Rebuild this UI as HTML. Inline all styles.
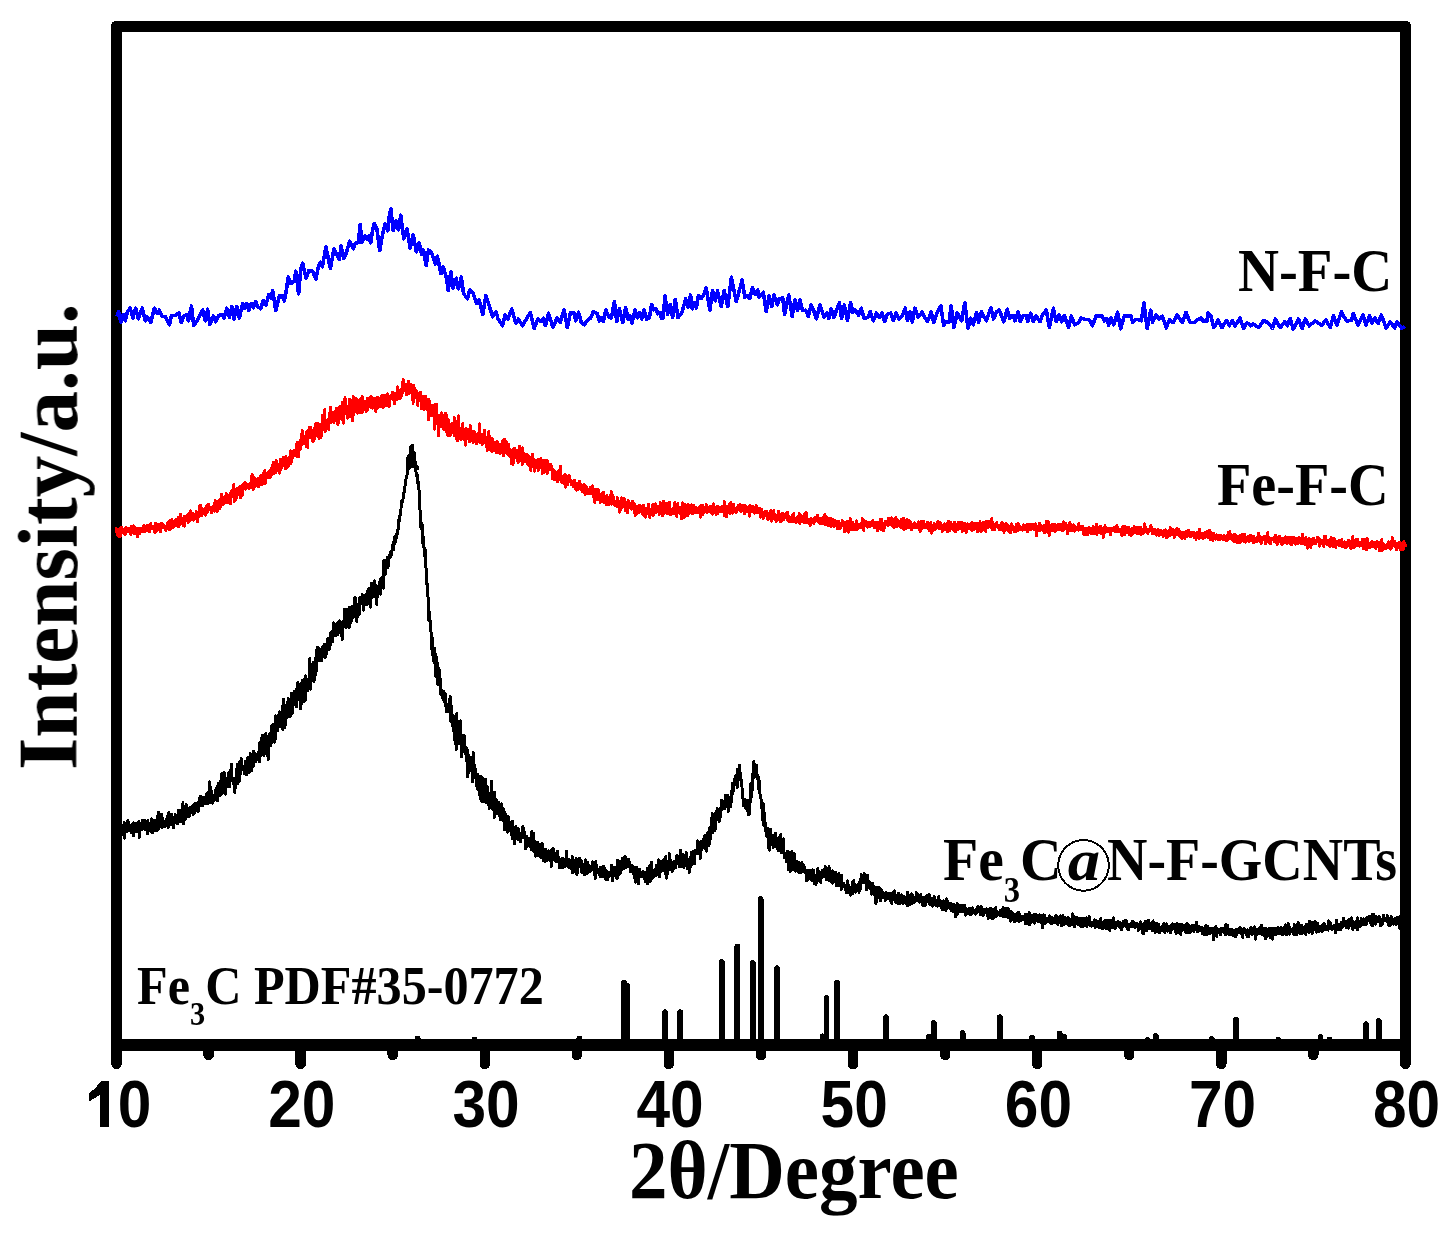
<!DOCTYPE html>
<html><head><meta charset="utf-8"><title>XRD</title>
<style>
html,body{margin:0;padding:0;background:#fff;width:1453px;height:1239px;overflow:hidden}
svg{display:block}
.tl{font-family:"Liberation Sans",sans-serif;font-weight:bold;font-size:65px}
.ax{font-family:"Liberation Serif",serif;font-weight:bold;font-size:82px}
.lb{font-family:"Liberation Serif",serif;font-weight:bold;font-size:62px}
.lb2{font-family:"Liberation Serif",serif;font-weight:bold;font-size:54px}
.sub{font-size:34px}
.sub2{font-size:28px}
</style></head><body>
<svg width="1453" height="1239" viewBox="0 0 1453 1239" shape-rendering="crispEdges">
<rect width="100%" height="100%" fill="#fff"/>
<path d="M624.0 1040V982.5M627.0 1040V986.0M665.0 1040V1012.2M680.1 1040V1012.2M721.8 1040V962.0M737.3 1040V946.5M752.8 1040V963.0M760.6 1040V899.0M777.0 1040V968.2M822.6 1040V1036.3M826.5 1040V998.1M836.8 1040V982.6M886.0 1040V1017.2M929.0 1040V1036.9M933.7 1040V1023.1M962.6 1040V1033.2M999.8 1040V1017.3M1032.2 1040V1037.5M1059.6 1040V1033.4M1063.8 1040V1036.5M1147.4 1040V1040.4M1155.8 1040V1036.0M1211.7 1040V1039.0M1235.9 1040V1019.7M1278.3 1040V1039.9M1320.5 1040V1036.9M1329.5 1040V1039.7M1366.0 1040V1024.2M1378.7 1040V1021.1M417.7 1040V1038.5M474.4 1040V1039.5M579.4 1040V1038.5" stroke="#000" stroke-width="5.8" stroke-linecap="round" fill="none"/>
<rect x="116.5" y="26.5" width="1289.0" height="1018.5" fill="none" stroke="#000" stroke-width="11.5" stroke-linejoin="round"/>
<path d="M116.5 1045V1064M300.6 1045V1064M484.8 1045V1064M668.9 1045V1064M853.0 1045V1064M1037.2 1045V1064M1221.3 1045V1064M1405.4 1045V1064M208.6 1045V1055M392.7 1045V1055M576.8 1045V1055M761.0 1045V1055M945.1 1045V1055M1129.2 1045V1055M1313.3 1045V1055" stroke="#000" stroke-width="10.5" stroke-linecap="round" fill="none"/>
<path d="M116.0 825.8L116.4 830.0L116.7 822.2L117.1 831.7L117.5 833.7L117.9 827.1L118.2 830.7L118.6 829.9L119.0 827.2L119.3 825.3L119.7 820.4L120.1 834.6L120.4 828.5L120.8 839.1L121.2 832.1L121.6 829.8L121.9 825.9L122.3 834.3L122.7 826.5L123.0 835.0L123.4 826.9L123.8 829.3L124.1 822.2L124.5 838.1L124.9 828.0L125.3 826.8L125.6 831.7L126.0 824.7L126.4 831.5L126.7 823.4L127.1 830.5L127.5 823.9L127.8 820.6L128.2 825.7L128.6 822.1L129.0 830.4L129.3 828.2L129.7 830.2L130.1 828.4L130.4 826.6L130.8 828.1L131.2 832.4L131.5 827.2L131.9 824.8L132.3 823.9L132.7 827.0L133.0 824.7L133.4 835.7L133.8 822.9L134.1 823.3L134.5 826.5L134.9 830.4L135.2 826.6L135.6 823.7L136.0 824.3L136.4 826.1L136.7 831.6L137.1 823.4L137.5 827.1L137.8 824.9L138.2 828.8L138.6 829.0L138.9 821.2L139.3 837.3L139.7 828.0L140.1 825.1L140.4 823.4L140.8 826.0L141.2 827.2L141.5 829.5L141.9 826.9L142.3 828.9L142.6 820.0L143.0 823.5L143.4 822.3L143.8 827.2L144.1 828.3L144.5 820.1L144.9 825.4L145.2 829.1L145.6 829.8L146.0 821.1L146.3 828.0L146.7 827.0L147.1 823.6L147.5 833.5L147.8 820.4L148.2 823.8L148.6 826.8L148.9 825.7L149.3 823.9L149.7 830.3L150.0 830.4L150.4 828.0L150.8 828.3L151.2 823.7L151.5 818.9L151.9 832.9L152.3 819.5L152.6 832.8L153.0 822.8L153.4 824.2L153.7 822.3L154.1 827.0L154.5 820.7L154.9 830.6L155.2 824.9L155.6 823.3L156.0 820.1L156.3 823.6L156.7 822.4L157.1 830.4L157.4 826.2L157.8 815.5L158.2 828.6L158.6 812.0L158.9 828.6L159.3 813.9L159.7 821.9L160.0 825.3L160.4 821.8L160.8 817.1L161.1 827.0L161.5 814.1L161.9 815.4L162.3 827.5L162.6 817.8L163.0 822.5L163.4 824.9L163.7 820.9L164.1 822.5L164.5 821.8L164.8 822.2L165.2 826.3L165.6 825.2L166.0 822.5L166.3 825.0L166.7 818.7L167.1 817.7L167.4 816.6L167.8 824.2L168.2 827.8L168.5 821.1L168.9 812.2L169.3 818.4L169.7 822.5L170.0 821.7L170.4 820.8L170.8 824.6L171.1 824.2L171.5 814.4L171.9 821.9L172.2 816.8L172.6 820.9L173.0 825.1L173.4 827.5L173.7 822.5L174.1 817.2L174.5 817.8L174.8 821.4L175.2 814.7L175.6 818.6L175.9 821.3L176.3 822.5L176.7 817.1L177.1 819.8L177.4 824.0L177.8 819.2L178.2 810.3L178.5 818.5L178.9 818.5L179.3 815.4L179.6 817.2L180.0 810.4L180.4 822.0L180.8 818.3L181.1 813.9L181.5 817.1L181.9 816.5L182.2 811.9L182.6 803.9L183.0 802.9L183.3 823.9L183.7 810.0L184.1 813.4L184.5 817.0L184.8 812.7L185.2 819.3L185.6 809.8L185.9 816.2L186.3 804.4L186.7 816.4L187.0 816.1L187.4 814.5L187.8 814.0L188.2 813.7L188.5 816.1L188.9 816.3L189.3 807.8L189.6 816.3L190.0 807.3L190.4 812.0L190.7 809.9L191.1 812.9L191.5 809.2L191.9 812.2L192.2 808.1L192.6 805.7L193.0 814.4L193.3 812.0L193.7 811.5L194.1 813.2L194.4 804.1L194.8 812.5L195.2 803.7L195.6 809.7L195.9 807.0L196.3 808.8L196.7 810.4L197.0 807.2L197.4 802.8L197.8 810.6L198.1 811.5L198.5 809.1L198.9 810.3L199.3 797.8L199.6 805.6L200.0 804.5L200.4 796.1L200.7 804.9L201.1 804.2L201.5 797.1L201.8 799.8L202.2 803.7L202.6 805.8L203.0 806.0L203.3 797.3L203.7 797.1L204.1 799.5L204.4 801.3L204.8 798.4L205.2 799.9L205.5 803.9L205.9 803.5L206.3 800.5L206.7 793.9L207.0 796.7L207.4 801.5L207.8 802.7L208.1 803.3L208.5 792.4L208.9 795.0L209.2 790.9L209.6 781.7L210.0 790.7L210.4 786.8L210.7 802.8L211.1 797.7L211.5 791.6L211.8 794.9L212.2 796.4L212.6 803.2L212.9 797.8L213.3 801.5L213.7 795.6L214.1 799.8L214.4 800.3L214.8 797.3L215.2 792.1L215.5 797.7L215.9 789.2L216.3 799.1L216.6 789.3L217.0 786.8L217.4 801.0L217.8 787.7L218.1 790.8L218.5 783.5L218.9 785.3L219.2 787.1L219.6 783.1L220.0 795.7L220.3 784.1L220.7 780.7L221.1 794.5L221.5 791.8L221.8 773.5L222.2 783.7L222.6 792.9L222.9 782.0L223.3 784.7L223.7 784.6L224.0 772.0L224.4 780.1L224.8 790.1L225.2 794.1L225.5 784.3L225.9 783.9L226.3 787.7L226.6 785.0L227.0 786.9L227.4 778.0L227.7 783.3L228.1 786.0L228.5 786.2L228.9 772.5L229.2 787.0L229.6 782.2L230.0 782.2L230.3 769.8L230.7 780.7L231.1 770.3L231.4 764.1L231.8 780.0L232.2 779.1L232.6 779.1L232.9 779.5L233.3 778.0L233.7 784.5L234.0 782.4L234.4 787.1L234.8 792.4L235.1 781.1L235.5 780.9L235.9 787.4L236.3 769.7L236.6 772.7L237.0 776.0L237.4 764.3L237.7 779.7L238.1 783.2L238.5 765.1L238.8 767.5L239.2 777.9L239.6 780.4L240.0 761.1L240.3 774.5L240.7 769.5L241.1 758.8L241.4 767.4L241.8 766.1L242.2 770.0L242.5 769.3L242.9 767.0L243.3 767.6L243.7 767.1L244.0 771.1L244.4 773.6L244.8 773.3L245.1 761.4L245.5 761.7L245.9 762.2L246.2 775.1L246.6 768.9L247.0 760.8L247.4 758.0L247.7 758.7L248.1 765.0L248.5 757.5L248.8 764.2L249.2 772.5L249.6 762.0L249.9 768.8L250.3 753.4L250.7 765.0L251.1 764.3L251.4 756.2L251.8 770.5L252.2 761.3L252.5 756.7L252.9 758.8L253.3 766.3L253.6 751.1L254.0 760.4L254.4 752.9L254.8 760.0L255.1 754.7L255.5 757.1L255.9 761.8L256.2 756.5L256.6 759.0L257.0 759.2L257.3 756.5L257.7 754.6L258.1 752.6L258.5 755.6L258.8 758.5L259.2 761.9L259.6 760.8L259.9 742.7L260.3 750.5L260.7 751.4L261.0 755.6L261.4 754.3L261.8 738.0L262.2 748.6L262.5 735.6L262.9 743.2L263.3 740.0L263.6 741.8L264.0 755.6L264.4 741.7L264.7 741.7L265.1 745.4L265.5 751.2L265.9 733.2L266.2 754.2L266.6 738.6L267.0 736.8L267.3 743.6L267.7 746.7L268.1 759.4L268.4 747.4L268.8 737.3L269.2 739.3L269.6 734.0L269.9 743.9L270.3 744.4L270.7 736.4L271.0 745.2L271.4 726.5L271.8 733.7L272.1 730.2L272.5 731.7L272.9 724.3L273.3 740.4L273.6 727.4L274.0 732.1L274.4 740.0L274.7 742.1L275.1 738.7L275.5 715.9L275.8 727.8L276.2 726.9L276.6 724.1L277.0 722.8L277.3 723.6L277.7 730.4L278.1 722.9L278.4 716.5L278.8 714.3L279.2 724.8L279.5 712.0L279.9 727.1L280.3 718.6L280.7 717.9L281.0 722.0L281.4 717.5L281.8 723.8L282.1 710.1L282.5 706.0L282.9 730.0L283.2 717.7L283.6 699.1L284.0 726.4L284.4 705.5L284.7 727.6L285.1 725.4L285.5 718.7L285.8 712.4L286.2 706.1L286.6 717.5L286.9 708.1L287.3 717.3L287.7 707.8L288.1 698.8L288.4 704.0L288.8 708.4L289.2 704.3L289.5 707.9L289.9 700.4L290.3 716.5L290.6 701.9L291.0 708.3L291.4 693.3L291.8 709.3L292.1 713.5L292.5 706.8L292.9 700.7L293.2 695.6L293.6 705.2L294.0 704.5L294.3 691.5L294.7 699.7L295.1 702.6L295.5 693.4L295.8 702.0L296.2 695.7L296.6 706.5L296.9 688.0L297.3 699.4L297.7 696.2L298.0 682.5L298.4 688.3L298.8 688.3L299.2 699.7L299.5 690.7L299.9 692.6L300.3 693.2L300.6 709.0L301.0 689.9L301.4 704.0L301.7 689.7L302.1 680.2L302.5 684.9L302.9 681.8L303.2 687.3L303.6 679.8L304.0 683.1L304.3 701.4L304.7 690.0L305.1 690.2L305.4 699.5L305.8 675.9L306.2 689.9L306.6 682.3L306.9 684.4L307.3 679.3L307.7 683.7L308.0 690.2L308.4 689.1L308.8 681.8L309.1 684.7L309.5 670.5L309.9 658.1L310.3 683.4L310.6 689.1L311.0 677.9L311.4 670.0L311.7 673.6L312.1 680.5L312.5 663.9L312.8 671.3L313.2 674.0L313.6 662.4L314.0 682.1L314.3 672.8L314.7 677.6L315.1 658.7L315.4 666.4L315.8 674.3L316.2 666.3L316.5 670.8L316.9 649.6L317.3 660.4L317.7 647.0L318.0 656.1L318.4 660.5L318.8 657.1L319.1 648.8L319.5 658.3L319.9 659.9L320.2 654.2L320.6 659.5L321.0 661.0L321.4 661.0L321.7 649.9L322.1 654.9L322.5 646.7L322.8 649.7L323.2 656.7L323.6 648.4L323.9 645.5L324.3 644.0L324.7 650.7L325.1 657.3L325.4 652.2L325.8 644.2L326.2 650.3L326.5 650.8L326.9 653.6L327.3 639.1L327.6 647.1L328.0 639.8L328.4 638.4L328.8 649.6L329.1 644.5L329.5 640.9L329.9 648.8L330.2 640.5L330.6 633.1L331.0 644.3L331.3 631.8L331.7 631.7L332.1 634.1L332.5 635.3L332.8 641.7L333.2 633.0L333.6 623.0L333.9 630.6L334.3 635.9L334.7 632.5L335.0 632.0L335.4 624.4L335.8 629.3L336.2 635.1L336.5 634.7L336.9 624.9L337.3 625.1L337.6 623.0L338.0 634.9L338.4 623.5L338.7 626.1L339.1 622.0L339.5 621.0L339.9 625.6L340.2 631.8L340.6 621.8L341.0 632.7L341.3 624.3L341.7 628.9L342.1 639.8L342.4 638.0L342.8 624.8L343.2 623.0L343.6 621.1L343.9 626.3L344.3 609.1L344.7 616.3L345.0 619.6L345.4 615.2L345.8 613.3L346.1 627.9L346.5 609.6L346.9 616.0L347.3 614.7L347.6 615.1L348.0 611.0L348.4 622.4L348.7 616.4L349.1 628.1L349.5 607.6L349.8 616.9L350.2 607.5L350.6 616.9L351.0 622.7L351.3 607.4L351.7 620.8L352.1 608.8L352.4 606.3L352.8 615.5L353.2 617.8L353.5 613.5L353.9 614.2L354.3 611.6L354.7 608.1L355.0 597.1L355.4 608.2L355.8 605.5L356.1 613.2L356.5 603.8L356.9 621.6L357.2 612.1L357.6 604.9L358.0 611.4L358.4 605.0L358.7 614.4L359.1 602.9L359.5 614.3L359.8 597.7L360.2 604.7L360.6 603.1L360.9 597.3L361.3 600.5L361.7 602.2L362.1 594.0L362.4 595.7L362.8 603.9L363.2 595.4L363.5 610.2L363.9 609.8L364.3 596.2L364.6 601.2L365.0 602.0L365.4 602.8L365.8 594.4L366.1 602.3L366.5 593.8L366.9 596.3L367.2 604.6L367.6 595.7L368.0 589.8L368.3 592.0L368.7 597.4L369.1 590.1L369.5 588.5L369.8 595.4L370.2 588.0L370.6 607.2L370.9 589.1L371.3 597.5L371.7 583.3L372.0 590.2L372.4 597.3L372.8 595.1L373.2 595.4L373.5 587.3L373.9 591.9L374.3 589.0L374.6 580.9L375.0 597.0L375.4 585.0L375.7 587.5L376.1 594.2L376.5 592.5L376.9 604.6L377.2 587.1L377.6 596.5L378.0 586.2L378.3 586.6L378.7 592.9L379.1 589.8L379.4 581.9L379.8 584.1L380.2 585.3L380.6 594.3L380.9 578.2L381.3 583.8L381.7 585.5L382.0 581.8L382.4 577.0L382.8 584.1L383.1 572.3L383.5 588.2L383.9 559.9L384.3 562.6L384.6 573.5L385.0 574.9L385.4 572.4L385.7 565.1L386.1 566.2L386.5 565.8L386.8 559.6L387.2 561.3L387.6 557.2L388.0 567.5L388.3 562.5L388.7 557.1L389.1 556.6L389.4 555.3L389.8 555.1L390.2 557.2L390.5 553.2L390.9 551.5L391.3 554.9L391.7 551.2L392.0 551.0L392.4 550.2L392.8 547.7L393.1 542.1L393.5 544.6L393.9 549.4L394.2 538.9L394.6 537.5L395.0 537.7L395.4 536.3L395.7 541.9L396.1 533.9L396.5 538.1L396.8 535.5L397.2 533.9L397.6 532.2L397.9 529.8L398.3 528.7L398.7 529.2L399.1 516.6L399.4 521.4L399.8 520.4L400.2 511.6L400.5 510.7L400.9 511.1L401.3 501.9L401.6 505.8L402.0 500.4L402.4 502.2L402.8 500.7L403.1 498.5L403.5 493.5L403.9 493.7L404.2 490.2L404.6 489.9L405.0 486.3L405.3 483.1L405.7 484.2L406.1 477.9L406.5 476.8L406.8 477.1L407.2 473.5L407.6 472.1L407.9 467.1L408.3 466.6L408.7 463.1L409.0 459.9L409.4 460.8L409.8 457.0L410.2 456.0L410.5 452.5L410.9 451.6L411.3 449.8L411.6 447.0L412.0 446.9L412.4 445.5L412.7 449.6L413.1 451.6L413.5 452.9L413.9 457.4L414.2 458.2L414.6 460.5L415.0 461.6L415.3 462.3L415.7 468.2L416.1 472.6L416.4 476.1L416.8 476.0L417.2 474.5L417.6 479.3L417.9 483.3L418.3 482.3L418.7 487.6L419.0 490.1L419.4 493.8L419.8 499.6L420.1 513.7L420.5 520.9L420.9 527.8L421.3 525.0L421.6 529.2L422.0 523.8L422.4 535.3L422.7 543.3L423.1 536.3L423.5 545.2L423.8 543.2L424.2 551.4L424.6 555.7L425.0 548.3L425.3 555.4L425.7 561.4L426.1 569.7L426.4 583.3L426.8 580.7L427.2 585.5L427.5 590.4L427.9 591.3L428.3 611.6L428.7 615.0L429.0 620.5L429.4 620.3L429.8 612.4L430.1 626.7L430.5 621.4L430.9 622.2L431.2 648.8L431.6 641.2L432.0 636.7L432.4 649.2L432.7 654.8L433.1 651.9L433.5 649.9L433.8 661.2L434.2 661.5L434.6 662.6L434.9 648.0L435.3 663.8L435.7 676.3L436.1 655.9L436.4 661.8L436.8 660.4L437.2 663.6L437.5 667.5L437.9 684.4L438.3 669.6L438.6 685.0L439.0 668.6L439.4 681.9L439.8 679.0L440.1 678.3L440.5 685.4L440.9 695.0L441.2 689.9L441.6 693.6L442.0 690.8L442.3 695.1L442.7 695.8L443.1 700.1L443.5 694.1L443.8 691.5L444.2 693.5L444.6 694.2L444.9 703.0L445.3 693.6L445.7 706.1L446.0 703.2L446.4 711.8L446.8 704.6L447.2 712.0L447.5 707.9L447.9 706.9L448.3 704.0L448.6 710.7L449.0 708.7L449.4 704.3L449.7 706.2L450.1 696.4L450.5 720.7L450.9 721.6L451.2 710.7L451.6 706.0L452.0 721.7L452.3 726.2L452.7 719.0L453.1 715.6L453.4 731.2L453.8 729.6L454.2 731.9L454.6 739.5L454.9 726.6L455.3 729.3L455.7 743.9L456.0 736.5L456.4 749.4L456.8 713.5L457.1 722.3L457.5 738.6L457.9 738.7L458.3 728.0L458.6 730.4L459.0 731.7L459.4 743.4L459.7 729.5L460.1 739.5L460.5 735.9L460.8 720.8L461.2 745.0L461.6 757.0L462.0 743.3L462.3 751.0L462.7 746.8L463.1 745.9L463.4 736.4L463.8 747.8L464.2 735.7L464.5 746.4L464.9 752.6L465.3 753.7L465.7 747.7L466.0 753.1L466.4 747.9L466.8 761.3L467.1 749.0L467.5 777.0L467.9 764.6L468.2 759.3L468.6 773.1L469.0 755.3L469.4 771.0L469.7 759.1L470.1 764.6L470.5 761.4L470.8 760.8L471.2 762.8L471.6 768.9L471.9 766.3L472.3 781.7L472.7 770.5L473.1 752.7L473.4 766.4L473.8 770.1L474.2 774.8L474.5 777.5L474.9 765.4L475.3 776.2L475.6 769.8L476.0 776.8L476.4 775.0L476.8 785.9L477.1 785.0L477.5 789.2L477.9 774.6L478.2 777.0L478.6 781.3L479.0 778.0L479.3 778.3L479.7 786.4L480.1 798.2L480.5 786.6L480.8 795.3L481.2 776.4L481.6 799.5L481.9 801.3L482.3 788.8L482.7 785.0L483.0 792.8L483.4 778.7L483.8 792.0L484.2 779.3L484.5 801.4L484.9 791.4L485.3 787.4L485.6 779.3L486.0 802.5L486.4 794.4L486.7 790.8L487.1 802.4L487.5 786.7L487.9 802.7L488.2 804.6L488.6 795.1L489.0 804.9L489.3 808.4L489.7 793.6L490.1 794.4L490.4 804.4L490.8 804.4L491.2 795.3L491.6 781.1L491.9 791.4L492.3 809.1L492.7 798.8L493.0 796.5L493.4 805.1L493.8 792.4L494.1 817.4L494.5 792.2L494.9 803.4L495.3 807.5L495.6 809.4L496.0 799.3L496.4 804.4L496.7 813.3L497.1 808.3L497.5 812.1L497.8 809.4L498.2 810.1L498.6 804.2L499.0 802.8L499.3 808.7L499.7 804.1L500.1 819.9L500.4 816.1L500.8 819.7L501.2 803.9L501.5 805.5L501.9 817.6L502.3 815.2L502.7 816.1L503.0 821.0L503.4 809.9L503.8 808.8L504.1 811.8L504.5 829.5L504.9 817.6L505.2 813.9L505.6 827.4L506.0 824.7L506.4 825.2L506.7 824.4L507.1 820.2L507.5 832.1L507.8 827.4L508.2 816.5L508.6 817.4L508.9 820.8L509.3 829.8L509.7 822.1L510.1 824.7L510.4 824.2L510.8 827.7L511.2 834.6L511.5 825.9L511.9 828.9L512.3 838.7L512.6 821.3L513.0 831.9L513.4 831.6L513.8 830.5L514.1 836.8L514.5 843.4L514.9 831.9L515.2 832.0L515.6 835.9L516.0 826.4L516.3 831.1L516.7 834.9L517.1 834.6L517.5 829.8L517.8 839.7L518.2 828.2L518.6 830.7L518.9 829.3L519.3 836.8L519.7 839.2L520.0 834.7L520.4 841.5L520.8 833.6L521.2 836.4L521.5 837.3L521.9 836.2L522.3 837.6L522.6 831.7L523.0 826.4L523.4 834.6L523.7 835.7L524.1 836.7L524.5 832.9L524.9 832.0L525.2 849.0L525.6 842.8L526.0 841.0L526.3 840.4L526.7 836.5L527.1 839.3L527.4 846.1L527.8 845.7L528.2 838.0L528.6 838.6L528.9 838.7L529.3 838.1L529.7 846.5L530.0 845.4L530.4 844.0L530.8 839.7L531.1 849.3L531.5 843.3L531.9 830.9L532.3 850.1L532.6 845.2L533.0 841.3L533.4 851.1L533.7 833.1L534.1 841.8L534.5 848.8L534.8 842.1L535.2 856.1L535.6 856.1L536.0 847.9L536.3 847.9L536.7 855.6L537.1 850.5L537.4 842.5L537.8 846.7L538.2 843.9L538.5 851.5L538.9 849.7L539.3 856.0L539.7 850.7L540.0 845.9L540.4 844.4L540.8 857.7L541.1 856.8L541.5 846.7L541.9 843.8L542.2 843.6L542.6 856.4L543.0 850.0L543.4 861.0L543.7 850.4L544.1 851.2L544.5 851.7L544.8 856.2L545.2 861.9L545.6 849.1L545.9 857.8L546.3 861.0L546.7 853.7L547.1 852.8L547.4 860.2L547.8 852.2L548.2 854.0L548.5 851.0L548.9 853.3L549.3 857.3L549.6 858.0L550.0 855.3L550.4 857.0L550.8 850.5L551.1 866.9L551.5 851.9L551.9 859.7L552.2 853.6L552.6 857.6L553.0 848.1L553.3 854.6L553.7 852.2L554.1 859.8L554.5 858.9L554.8 854.2L555.2 854.0L555.6 860.8L555.9 856.7L556.3 862.0L556.7 860.7L557.0 857.3L557.4 858.4L557.8 851.1L558.2 859.9L558.5 859.1L558.9 860.2L559.3 867.4L559.6 861.3L560.0 860.9L560.4 861.0L560.7 859.1L561.1 867.9L561.5 861.3L561.9 867.5L562.2 865.0L562.6 858.4L563.0 863.0L563.3 867.3L563.7 860.6L564.1 862.8L564.4 861.5L564.8 861.7L565.2 866.3L565.6 859.1L565.9 861.5L566.3 863.8L566.7 851.1L567.0 861.8L567.4 863.8L567.8 865.2L568.1 860.5L568.5 859.2L568.9 867.6L569.3 860.5L569.6 865.7L570.0 864.2L570.4 860.4L570.7 861.8L571.1 860.4L571.5 868.5L571.8 864.9L572.2 856.3L572.6 872.5L573.0 870.5L573.3 870.0L573.7 860.2L574.1 862.1L574.4 861.8L574.8 871.1L575.2 864.9L575.5 865.9L575.9 863.6L576.3 858.5L576.7 868.7L577.0 874.8L577.4 863.6L577.8 860.9L578.1 861.9L578.5 862.1L578.9 858.4L579.2 862.7L579.6 863.5L580.0 858.4L580.4 867.0L580.7 863.1L581.1 860.1L581.5 865.4L581.8 872.3L582.2 871.5L582.6 870.4L582.9 870.4L583.3 869.8L583.7 868.8L584.1 869.5L584.4 874.6L584.8 864.1L585.2 869.5L585.5 860.0L585.9 868.9L586.3 872.1L586.6 864.7L587.0 873.7L587.4 862.2L587.8 873.1L588.1 865.4L588.5 868.2L588.9 865.0L589.2 869.5L589.6 866.2L590.0 871.9L590.3 867.2L590.7 868.4L591.1 866.3L591.5 869.4L591.8 865.7L592.2 866.8L592.6 862.0L592.9 866.1L593.3 866.5L593.7 867.7L594.0 868.7L594.4 862.1L594.8 872.2L595.2 878.4L595.5 869.2L595.9 861.0L596.3 872.8L596.6 869.6L597.0 868.8L597.4 870.5L597.7 870.1L598.1 869.3L598.5 872.7L598.9 871.5L599.2 869.3L599.6 873.7L600.0 876.2L600.3 876.4L600.7 867.0L601.1 871.6L601.4 874.1L601.8 872.3L602.2 871.3L602.6 876.8L602.9 873.5L603.3 874.2L603.7 866.1L604.0 866.6L604.4 870.6L604.8 873.6L605.1 876.8L605.5 869.8L605.9 879.8L606.3 874.1L606.6 871.4L607.0 876.8L607.4 879.6L607.7 873.9L608.1 873.9L608.5 874.9L608.8 877.0L609.2 872.8L609.6 873.5L610.0 874.4L610.3 873.0L610.7 875.1L611.1 870.5L611.4 865.2L611.8 871.1L612.2 871.6L612.5 881.0L612.9 877.4L613.3 874.5L613.7 870.6L614.0 867.6L614.4 869.6L614.8 874.3L615.1 871.5L615.5 867.6L615.9 872.5L616.2 868.7L616.6 873.2L617.0 879.1L617.4 874.7L617.7 860.4L618.1 875.3L618.5 868.1L618.8 871.2L619.2 871.1L619.6 870.2L619.9 861.3L620.3 873.6L620.7 863.8L621.1 863.5L621.4 867.8L621.8 869.4L622.2 863.5L622.5 858.7L622.9 866.6L623.3 863.0L623.6 867.2L624.0 868.2L624.4 857.2L624.8 856.5L625.1 860.6L625.5 857.2L625.9 867.6L626.2 860.7L626.6 860.6L627.0 861.2L627.3 866.7L627.7 862.6L628.1 865.0L628.5 859.3L628.8 866.3L629.2 862.4L629.6 862.6L629.9 863.5L630.3 871.8L630.7 866.2L631.0 870.0L631.4 869.4L631.8 871.9L632.2 868.1L632.5 865.7L632.9 870.8L633.3 873.4L633.6 870.1L634.0 874.2L634.4 877.8L634.7 867.0L635.1 882.2L635.5 880.3L635.9 877.5L636.2 881.2L636.6 867.6L637.0 876.9L637.3 877.8L637.7 878.2L638.1 878.0L638.4 883.8L638.8 878.9L639.2 873.2L639.6 869.6L639.9 871.6L640.3 874.0L640.7 876.4L641.0 875.3L641.4 876.3L641.8 872.7L642.1 873.3L642.5 876.6L642.9 873.8L643.3 871.8L643.6 872.6L644.0 876.5L644.4 872.2L644.7 873.0L645.1 882.0L645.5 873.6L645.8 874.9L646.2 878.8L646.6 881.3L647.0 876.8L647.3 868.3L647.7 884.0L648.1 869.8L648.4 868.6L648.8 870.1L649.2 879.7L649.5 873.2L649.9 865.2L650.3 881.3L650.7 866.5L651.0 881.1L651.4 862.2L651.8 872.4L652.1 873.0L652.5 870.2L652.9 872.4L653.2 877.2L653.6 873.3L654.0 875.4L654.4 872.7L654.7 872.8L655.1 869.2L655.5 871.2L655.8 875.0L656.2 875.6L656.6 865.5L656.9 867.4L657.3 870.5L657.7 868.8L658.1 865.5L658.4 859.8L658.8 869.5L659.2 864.9L659.5 876.4L659.9 872.3L660.3 868.9L660.6 861.1L661.0 863.4L661.4 871.1L661.8 862.8L662.1 865.1L662.5 868.0L662.9 868.7L663.2 864.6L663.6 868.3L664.0 859.0L664.3 866.2L664.7 865.7L665.1 873.5L665.5 868.2L665.8 856.7L666.2 873.1L666.6 878.2L666.9 869.0L667.3 869.7L667.7 873.6L668.0 866.8L668.4 866.7L668.8 868.0L669.2 853.1L669.5 864.6L669.9 869.9L670.3 869.7L670.6 860.4L671.0 866.0L671.4 864.6L671.7 863.9L672.1 871.2L672.5 862.9L672.9 865.7L673.2 869.4L673.6 862.0L674.0 865.9L674.3 861.0L674.7 865.1L675.1 864.4L675.4 867.5L675.8 861.9L676.2 862.4L676.6 855.7L676.9 859.9L677.3 857.6L677.7 855.9L678.0 860.1L678.4 861.5L678.8 861.0L679.1 866.6L679.5 858.2L679.9 857.2L680.3 850.0L680.6 866.4L681.0 864.3L681.4 864.1L681.7 856.9L682.1 857.8L682.5 858.0L682.8 854.2L683.2 862.9L683.6 860.5L684.0 867.5L684.3 862.1L684.7 860.1L685.1 864.7L685.4 865.1L685.8 855.5L686.2 852.6L686.5 855.0L686.9 866.4L687.3 864.9L687.7 868.9L688.0 861.9L688.4 863.7L688.8 859.4L689.1 872.6L689.5 865.5L689.9 870.3L690.2 864.2L690.6 857.0L691.0 866.6L691.4 852.0L691.7 864.7L692.1 859.0L692.5 861.4L692.8 851.8L693.2 858.4L693.6 853.7L693.9 851.8L694.3 863.8L694.7 858.1L695.1 852.4L695.4 850.1L695.8 851.0L696.2 853.3L696.5 853.6L696.9 851.6L697.3 840.8L697.6 850.0L698.0 850.8L698.4 853.1L698.8 848.4L699.1 847.3L699.5 848.1L699.9 844.4L700.2 858.7L700.6 842.5L701.0 841.0L701.3 847.7L701.7 847.3L702.1 849.1L702.5 844.2L702.8 841.8L703.2 839.7L703.6 844.3L703.9 845.5L704.3 843.4L704.7 836.5L705.0 835.6L705.4 848.8L705.8 842.3L706.2 840.8L706.5 851.3L706.9 846.0L707.3 832.9L707.6 838.0L708.0 844.4L708.4 841.7L708.7 839.0L709.1 845.2L709.5 827.8L709.9 838.8L710.2 830.2L710.6 838.8L711.0 830.6L711.3 820.8L711.7 830.1L712.1 813.6L712.4 832.9L712.8 827.7L713.2 831.7L713.6 826.0L713.9 824.6L714.3 831.0L714.7 826.6L715.0 813.2L715.4 817.7L715.8 828.3L716.1 812.5L716.5 811.3L716.9 813.0L717.3 808.6L717.6 816.9L718.0 814.2L718.4 820.2L718.7 812.2L719.1 821.9L719.5 810.4L719.8 816.2L720.2 816.9L720.6 811.5L721.0 807.4L721.3 800.2L721.7 800.8L722.1 809.3L722.4 803.5L722.8 808.6L723.2 801.1L723.5 804.8L723.9 805.1L724.3 808.8L724.7 802.6L725.0 808.6L725.4 795.4L725.8 797.4L726.1 805.0L726.5 803.6L726.9 807.0L727.2 795.6L727.6 805.9L728.0 795.2L728.4 811.3L728.7 800.4L729.1 801.6L729.5 806.4L729.8 804.3L730.2 798.2L730.6 798.6L730.9 806.5L731.3 791.0L731.7 801.7L732.1 789.0L732.4 783.7L732.8 794.2L733.2 789.2L733.5 784.9L733.9 788.0L734.3 781.3L734.6 779.0L735.0 782.6L735.4 780.4L735.8 775.2L736.1 782.6L736.5 778.2L736.9 782.3L737.2 787.3L737.6 769.4L738.0 776.1L738.3 775.1L738.7 769.2L739.1 775.7L739.5 765.5L739.8 771.3L740.2 779.5L740.6 773.5L740.9 777.6L741.3 781.8L741.7 781.1L742.0 787.4L742.4 795.3L742.8 798.0L743.2 799.0L743.5 805.7L743.9 801.2L744.3 805.7L744.6 804.0L745.0 799.3L745.4 801.6L745.7 807.8L746.1 800.9L746.5 807.6L746.9 809.8L747.2 803.3L747.6 800.6L748.0 812.4L748.3 815.0L748.7 808.9L749.1 814.2L749.4 808.3L749.8 801.9L750.2 802.5L750.6 802.2L750.9 783.5L751.3 795.0L751.7 796.4L752.0 791.6L752.4 784.3L752.8 780.9L753.1 770.3L753.5 777.7L753.9 761.2L754.3 771.2L754.6 767.9L755.0 764.4L755.4 769.0L755.7 772.1L756.1 767.2L756.5 765.3L756.8 777.5L757.2 775.3L757.6 779.3L758.0 775.4L758.3 789.2L758.7 788.9L759.1 780.8L759.4 781.0L759.8 793.6L760.2 794.3L760.5 794.8L760.9 797.1L761.3 802.9L761.7 806.5L762.0 809.0L762.4 818.9L762.8 820.5L763.1 802.9L763.5 821.4L763.9 826.0L764.2 812.2L764.6 819.3L765.0 822.0L765.4 830.3L765.7 829.9L766.1 830.7L766.5 831.4L766.8 836.8L767.2 834.5L767.6 828.3L767.9 829.4L768.3 832.3L768.7 847.8L769.1 840.4L769.4 843.4L769.8 850.2L770.2 843.0L770.5 829.4L770.9 843.6L771.3 838.5L771.6 839.0L772.0 838.0L772.4 841.4L772.8 835.1L773.1 847.8L773.5 845.9L773.9 844.7L774.2 844.4L774.6 836.2L775.0 847.1L775.3 836.7L775.7 833.1L776.1 840.3L776.5 842.9L776.8 843.2L777.2 848.1L777.6 840.1L777.9 848.9L778.3 850.7L778.7 844.2L779.0 836.9L779.4 849.5L779.8 842.7L780.2 843.8L780.5 835.9L780.9 834.4L781.3 852.6L781.6 849.2L782.0 841.9L782.4 844.4L782.7 841.3L783.1 848.2L783.5 838.9L783.9 854.1L784.2 853.0L784.6 857.4L785.0 853.1L785.3 856.7L785.7 856.6L786.1 857.7L786.4 853.1L786.8 862.0L787.2 851.0L787.6 855.2L787.9 857.9L788.3 869.5L788.7 854.4L789.0 860.7L789.4 861.7L789.8 852.4L790.1 871.6L790.5 865.5L790.9 862.5L791.3 860.4L791.6 865.1L792.0 851.6L792.4 869.5L792.7 861.0L793.1 867.2L793.5 858.4L793.8 860.5L794.2 853.1L794.6 862.4L795.0 863.6L795.3 861.2L795.7 871.2L796.1 864.1L796.4 864.5L796.8 861.2L797.2 868.0L797.5 863.8L797.9 865.7L798.3 862.3L798.7 871.5L799.0 872.7L799.4 866.2L799.8 869.4L800.1 865.5L800.5 872.3L800.9 872.4L801.2 866.2L801.6 871.8L802.0 862.4L802.4 869.4L802.7 866.0L803.1 871.3L803.5 871.7L803.8 865.7L804.2 866.7L804.6 869.5L804.9 870.5L805.3 871.0L805.7 872.8L806.1 870.8L806.4 880.7L806.8 874.9L807.2 870.9L807.5 878.7L807.9 876.7L808.3 879.0L808.6 879.3L809.0 870.8L809.4 873.9L809.8 875.2L810.1 870.0L810.5 878.5L810.9 873.6L811.2 879.4L811.6 880.0L812.0 875.6L812.3 869.9L812.7 880.2L813.1 874.7L813.5 880.2L813.8 870.3L814.2 883.7L814.6 878.8L814.9 881.0L815.3 878.6L815.7 883.4L816.0 884.3L816.4 874.9L816.8 876.1L817.2 879.5L817.5 880.5L817.9 868.7L818.3 877.7L818.6 871.0L819.0 881.0L819.4 877.5L819.7 872.1L820.1 872.1L820.5 881.7L820.9 882.3L821.2 874.6L821.6 873.0L822.0 877.0L822.3 870.5L822.7 873.8L823.1 875.7L823.4 875.7L823.8 876.2L824.2 873.3L824.6 873.0L824.9 869.0L825.3 866.6L825.7 875.7L826.0 873.3L826.4 879.9L826.8 876.3L827.1 867.9L827.5 877.7L827.9 871.1L828.3 873.2L828.6 871.8L829.0 866.8L829.4 880.4L829.7 873.9L830.1 876.1L830.5 873.0L830.8 871.0L831.2 872.5L831.6 881.6L832.0 872.9L832.3 870.8L832.7 883.1L833.1 874.1L833.4 872.8L833.8 880.1L834.2 873.0L834.5 877.9L834.9 876.6L835.3 873.6L835.7 872.3L836.0 882.6L836.4 881.5L836.8 885.9L837.1 879.2L837.5 878.8L837.9 880.7L838.2 882.2L838.6 885.2L839.0 873.5L839.4 885.1L839.7 880.3L840.1 883.1L840.5 879.5L840.8 882.9L841.2 889.7L841.6 875.7L841.9 885.3L842.3 884.0L842.7 883.1L843.1 884.5L843.4 886.6L843.8 883.7L844.2 885.5L844.5 885.3L844.9 887.1L845.3 885.4L845.6 886.5L846.0 890.4L846.4 889.2L846.8 892.9L847.1 886.6L847.5 881.0L847.9 888.1L848.2 885.0L848.6 884.7L849.0 889.4L849.3 887.2L849.7 889.8L850.1 894.7L850.5 895.0L850.8 890.0L851.2 891.0L851.6 891.8L851.9 893.0L852.3 883.3L852.7 881.9L853.0 893.4L853.4 884.9L853.8 880.5L854.2 887.5L854.5 883.9L854.9 892.0L855.3 892.1L855.6 888.7L856.0 886.4L856.4 887.5L856.7 885.0L857.1 887.0L857.5 887.5L857.9 884.7L858.2 885.0L858.6 884.7L859.0 892.2L859.3 885.9L859.7 881.8L860.1 889.6L860.4 884.1L860.8 882.6L861.2 874.1L861.6 880.5L861.9 878.2L862.3 882.5L862.7 881.2L863.0 882.9L863.4 882.8L863.8 877.9L864.1 873.0L864.5 882.7L864.9 879.3L865.3 877.5L865.6 876.0L866.0 876.5L866.4 889.9L866.7 878.5L867.1 882.1L867.5 877.7L867.8 875.0L868.2 884.5L868.6 886.1L869.0 887.7L869.3 882.7L869.7 881.8L870.1 887.5L870.4 885.6L870.8 889.3L871.2 888.7L871.5 894.3L871.9 887.0L872.3 889.0L872.7 883.0L873.0 892.6L873.4 887.6L873.8 894.2L874.1 886.4L874.5 892.5L874.9 888.1L875.2 888.2L875.6 890.0L876.0 903.6L876.4 892.3L876.7 887.4L877.1 896.3L877.5 893.4L877.8 889.7L878.2 897.6L878.6 889.4L878.9 889.8L879.3 887.6L879.7 893.7L880.1 891.8L880.4 895.5L880.8 900.9L881.2 889.4L881.5 893.5L881.9 894.4L882.3 898.0L882.6 894.0L883.0 892.3L883.4 897.6L883.8 893.1L884.1 894.9L884.5 897.9L884.9 895.8L885.2 900.4L885.6 899.3L886.0 892.8L886.3 897.1L886.7 896.5L887.1 893.1L887.5 895.9L887.8 898.6L888.2 898.1L888.6 898.9L888.9 893.7L889.3 895.5L889.7 898.9L890.0 892.9L890.4 894.2L890.8 901.2L891.2 894.3L891.5 895.7L891.9 903.3L892.3 895.8L892.6 897.2L893.0 892.5L893.4 896.3L893.7 895.4L894.1 892.9L894.5 890.8L894.9 895.7L895.2 895.8L895.6 898.6L896.0 902.8L896.3 898.5L896.7 899.7L897.1 895.3L897.4 897.2L897.8 900.8L898.2 903.6L898.6 893.5L898.9 899.0L899.3 901.9L899.7 897.2L900.0 903.5L900.4 896.7L900.8 898.4L901.1 900.3L901.5 894.9L901.9 897.1L902.3 899.5L902.6 899.2L903.0 903.8L903.4 898.1L903.7 899.1L904.1 896.8L904.5 897.2L904.8 902.4L905.2 903.0L905.6 900.7L906.0 901.0L906.3 897.8L906.7 900.4L907.1 906.0L907.4 905.6L907.8 892.0L908.2 901.5L908.5 904.8L908.9 896.9L909.3 902.6L909.7 904.6L910.0 895.7L910.4 900.3L910.8 901.0L911.1 899.4L911.5 894.0L911.9 901.3L912.2 903.7L912.6 896.9L913.0 895.9L913.4 902.8L913.7 896.9L914.1 899.5L914.5 901.3L914.8 897.7L915.2 900.7L915.6 901.3L915.9 899.0L916.3 892.6L916.7 896.8L917.1 900.5L917.4 894.8L917.8 894.6L918.2 900.1L918.5 900.7L918.9 895.8L919.3 902.2L919.6 900.6L920.0 895.3L920.4 902.0L920.8 894.5L921.1 899.2L921.5 902.2L921.9 900.4L922.2 897.3L922.6 897.5L923.0 905.7L923.3 897.0L923.7 903.6L924.1 899.8L924.5 899.0L924.8 899.4L925.2 905.9L925.6 897.0L925.9 901.2L926.3 900.3L926.7 902.0L927.0 895.2L927.4 901.4L927.8 901.1L928.2 899.2L928.5 902.3L928.9 894.1L929.3 895.3L929.6 898.4L930.0 904.8L930.4 899.8L930.7 899.9L931.1 903.8L931.5 900.8L931.9 898.7L932.2 906.2L932.6 902.7L933.0 901.9L933.3 899.4L933.7 902.4L934.1 896.6L934.4 901.2L934.8 902.4L935.2 904.7L935.6 905.5L935.9 903.1L936.3 905.2L936.7 900.4L937.0 901.6L937.4 903.2L937.8 906.2L938.1 904.7L938.5 898.6L938.9 896.6L939.3 903.8L939.6 899.7L940.0 900.3L940.4 905.1L940.7 904.1L941.1 907.8L941.5 901.8L941.8 902.0L942.2 906.2L942.6 909.4L943.0 909.2L943.3 900.9L943.7 903.3L944.1 907.3L944.4 908.0L944.8 904.3L945.2 902.8L945.5 903.6L945.9 910.8L946.3 907.6L946.7 898.8L947.0 899.3L947.4 907.8L947.8 903.4L948.1 907.4L948.5 905.2L948.9 903.9L949.2 907.5L949.6 903.3L950.0 908.8L950.4 903.9L950.7 903.8L951.1 903.8L951.5 907.5L951.8 911.0L952.2 907.3L952.6 909.7L952.9 904.8L953.3 911.3L953.7 904.9L954.1 904.1L954.4 909.7L954.8 909.9L955.2 912.1L955.5 916.7L955.9 906.7L956.3 911.2L956.6 905.2L957.0 909.0L957.4 903.7L957.8 914.1L958.1 909.5L958.5 908.8L958.9 906.4L959.2 908.9L959.6 907.9L960.0 911.3L960.3 907.7L960.7 905.3L961.1 910.3L961.5 909.1L961.8 908.3L962.2 912.0L962.6 905.8L962.9 907.4L963.3 909.8L963.7 909.6L964.0 906.8L964.4 905.5L964.8 911.5L965.2 911.8L965.5 915.3L965.9 908.6L966.3 910.2L966.6 908.9L967.0 910.6L967.4 911.6L967.7 912.3L968.1 913.4L968.5 911.5L968.9 910.3L969.2 912.6L969.6 908.2L970.0 911.7L970.3 910.1L970.7 914.6L971.1 913.3L971.4 913.6L971.8 910.6L972.2 907.9L972.6 908.7L972.9 909.3L973.3 911.3L973.7 910.5L974.0 910.8L974.4 913.1L974.8 913.3L975.1 912.5L975.5 911.0L975.9 914.1L976.3 909.4L976.6 911.6L977.0 909.7L977.4 912.3L977.7 906.6L978.1 911.8L978.5 908.1L978.8 906.9L979.2 909.9L979.6 912.1L980.0 910.6L980.3 914.4L980.7 914.6L981.1 908.6L981.4 906.6L981.8 908.3L982.2 914.8L982.5 909.6L982.9 911.8L983.3 915.4L983.7 909.5L984.0 910.4L984.4 912.1L984.8 911.9L985.1 912.9L985.5 910.7L985.9 909.8L986.2 910.2L986.6 908.8L987.0 914.0L987.4 912.3L987.7 910.7L988.1 918.7L988.5 909.3L988.8 909.2L989.2 908.9L989.6 909.7L989.9 913.2L990.3 912.3L990.7 908.4L991.1 913.4L991.4 918.1L991.8 914.5L992.2 914.3L992.5 913.2L992.9 909.8L993.3 918.5L993.6 913.7L994.0 918.1L994.4 914.7L994.8 916.2L995.1 913.3L995.5 913.0L995.9 907.4L996.2 916.2L996.6 915.7L997.0 911.4L997.3 912.9L997.7 913.0L998.1 912.4L998.5 912.3L998.8 914.8L999.2 912.0L999.6 914.1L999.9 915.2L1000.3 910.5L1000.7 914.4L1001.0 913.6L1001.4 914.7L1001.8 912.9L1002.2 911.0L1002.5 915.6L1002.9 908.8L1003.3 907.8L1003.6 916.9L1004.0 914.1L1004.4 909.3L1004.7 909.5L1005.1 912.3L1005.5 908.6L1005.9 916.6L1006.2 908.2L1006.6 910.5L1007.0 912.2L1007.3 913.7L1007.7 908.2L1008.1 908.6L1008.4 916.0L1008.8 918.0L1009.2 913.8L1009.6 912.3L1009.9 918.6L1010.3 921.2L1010.7 916.8L1011.0 911.5L1011.4 914.4L1011.8 916.4L1012.1 912.1L1012.5 917.4L1012.9 916.3L1013.3 918.8L1013.6 917.7L1014.0 921.3L1014.4 921.2L1014.7 914.9L1015.1 921.5L1015.5 918.7L1015.8 916.9L1016.2 914.1L1016.6 913.9L1017.0 917.7L1017.3 921.0L1017.7 915.6L1018.1 914.9L1018.4 912.2L1018.8 921.6L1019.2 913.9L1019.5 916.3L1019.9 917.3L1020.3 918.1L1020.7 918.4L1021.0 920.5L1021.4 916.1L1021.8 918.1L1022.1 919.7L1022.5 918.4L1022.9 916.8L1023.2 919.3L1023.6 919.0L1024.0 916.4L1024.4 917.5L1024.7 917.7L1025.1 918.0L1025.5 923.4L1025.8 914.0L1026.2 922.4L1026.6 918.6L1026.9 920.7L1027.3 918.3L1027.7 914.2L1028.1 919.7L1028.4 918.3L1028.8 924.1L1029.2 912.3L1029.5 924.4L1029.9 914.0L1030.3 914.9L1030.6 917.3L1031.0 919.8L1031.4 921.9L1031.8 922.1L1032.1 920.1L1032.5 919.3L1032.9 915.4L1033.2 921.7L1033.6 918.8L1034.0 914.0L1034.3 914.0L1034.7 923.1L1035.1 915.3L1035.5 918.2L1035.8 914.7L1036.2 920.3L1036.6 916.2L1036.9 919.3L1037.3 919.2L1037.7 921.2L1038.0 917.5L1038.4 915.4L1038.8 922.0L1039.2 914.8L1039.5 919.2L1039.9 919.1L1040.3 918.2L1040.6 918.1L1041.0 922.6L1041.4 915.6L1041.7 919.2L1042.1 916.4L1042.5 927.6L1042.9 919.9L1043.2 920.2L1043.6 914.9L1044.0 915.0L1044.3 915.2L1044.7 917.4L1045.1 923.3L1045.4 921.5L1045.8 919.0L1046.2 918.0L1046.6 918.1L1046.9 921.2L1047.3 919.1L1047.7 921.7L1048.0 920.3L1048.4 918.4L1048.8 919.9L1049.1 918.7L1049.5 917.0L1049.9 915.9L1050.3 919.6L1050.6 923.1L1051.0 918.6L1051.4 923.7L1051.7 917.4L1052.1 918.3L1052.5 923.1L1052.8 919.3L1053.2 919.0L1053.6 920.6L1054.0 919.7L1054.3 919.4L1054.7 920.8L1055.1 922.6L1055.4 916.6L1055.8 922.8L1056.2 915.1L1056.5 920.3L1056.9 918.9L1057.3 921.6L1057.7 924.3L1058.0 922.5L1058.4 920.6L1058.8 920.2L1059.1 922.2L1059.5 917.1L1059.9 916.5L1060.2 918.5L1060.6 915.7L1061.0 922.9L1061.4 925.9L1061.7 920.7L1062.1 917.5L1062.5 918.5L1062.8 915.4L1063.2 918.8L1063.6 924.9L1063.9 923.4L1064.3 922.5L1064.7 923.0L1065.1 917.6L1065.4 919.1L1065.8 923.3L1066.2 922.3L1066.5 923.1L1066.9 920.0L1067.3 917.9L1067.6 924.2L1068.0 920.6L1068.4 917.8L1068.8 925.6L1069.1 919.1L1069.5 920.3L1069.9 925.7L1070.2 922.9L1070.6 920.0L1071.0 921.1L1071.3 919.1L1071.7 920.3L1072.1 924.5L1072.5 913.9L1072.8 919.3L1073.2 923.2L1073.6 915.9L1073.9 920.6L1074.3 926.8L1074.7 926.9L1075.0 920.1L1075.4 921.3L1075.8 923.3L1076.2 917.2L1076.5 918.1L1076.9 917.7L1077.3 922.5L1077.6 918.2L1078.0 924.9L1078.4 920.2L1078.7 919.7L1079.1 923.4L1079.5 918.2L1079.9 921.3L1080.2 922.0L1080.6 921.7L1081.0 926.4L1081.3 924.7L1081.7 926.4L1082.1 921.9L1082.4 918.3L1082.8 921.2L1083.2 925.0L1083.6 926.0L1083.9 921.7L1084.3 919.7L1084.7 921.4L1085.0 918.2L1085.4 922.5L1085.8 919.7L1086.1 918.4L1086.5 917.7L1086.9 926.3L1087.3 921.0L1087.6 924.3L1088.0 924.8L1088.4 924.4L1088.7 923.0L1089.1 916.8L1089.5 919.8L1089.8 919.2L1090.2 925.5L1090.6 925.3L1091.0 924.2L1091.3 922.3L1091.7 926.2L1092.1 924.7L1092.4 925.7L1092.8 922.6L1093.2 922.6L1093.5 922.0L1093.9 922.1L1094.3 919.9L1094.7 921.3L1095.0 921.0L1095.4 927.4L1095.8 926.4L1096.1 926.0L1096.5 921.0L1096.9 922.9L1097.2 925.9L1097.6 923.4L1098.0 921.4L1098.4 924.9L1098.7 926.3L1099.1 927.8L1099.5 925.6L1099.8 922.5L1100.2 925.7L1100.6 925.2L1100.9 918.1L1101.3 927.3L1101.7 926.0L1102.1 924.9L1102.4 928.9L1102.8 925.7L1103.2 927.3L1103.5 926.3L1103.9 921.8L1104.3 924.0L1104.6 924.5L1105.0 924.1L1105.4 928.2L1105.8 920.0L1106.1 924.6L1106.5 920.4L1106.9 928.8L1107.2 926.6L1107.6 927.1L1108.0 920.1L1108.3 924.9L1108.7 925.2L1109.1 920.4L1109.5 928.4L1109.8 930.8L1110.2 923.0L1110.6 925.7L1110.9 920.6L1111.3 923.3L1111.7 926.5L1112.0 924.8L1112.4 927.3L1112.8 923.3L1113.2 926.5L1113.5 918.0L1113.9 920.6L1114.3 923.3L1114.6 923.2L1115.0 928.7L1115.4 927.5L1115.7 924.0L1116.1 922.3L1116.5 922.1L1116.9 923.5L1117.2 923.8L1117.6 925.5L1118.0 923.1L1118.3 921.4L1118.7 924.4L1119.1 926.5L1119.4 924.5L1119.8 925.9L1120.2 922.6L1120.6 927.4L1120.9 925.9L1121.3 929.9L1121.7 925.0L1122.0 928.5L1122.4 923.5L1122.8 926.9L1123.1 923.5L1123.5 921.4L1123.9 923.9L1124.3 923.0L1124.6 925.5L1125.0 925.8L1125.4 924.1L1125.7 920.3L1126.1 927.0L1126.5 927.3L1126.8 921.7L1127.2 923.9L1127.6 928.5L1128.0 925.1L1128.3 924.2L1128.7 929.7L1129.1 925.3L1129.4 927.4L1129.8 926.7L1130.2 925.3L1130.5 924.3L1130.9 923.6L1131.3 926.6L1131.7 925.6L1132.0 925.7L1132.4 921.1L1132.8 924.0L1133.1 922.3L1133.5 927.0L1133.9 922.9L1134.2 922.5L1134.6 923.0L1135.0 927.6L1135.4 927.1L1135.7 926.2L1136.1 926.2L1136.5 924.1L1136.8 923.6L1137.2 924.9L1137.6 925.4L1137.9 924.8L1138.3 930.6L1138.7 928.2L1139.1 929.2L1139.4 926.6L1139.8 925.7L1140.2 921.9L1140.5 923.6L1140.9 927.8L1141.3 928.0L1141.6 927.6L1142.0 926.5L1142.4 932.3L1142.8 926.5L1143.1 927.3L1143.5 933.8L1143.9 924.0L1144.2 923.4L1144.6 927.0L1145.0 928.6L1145.3 921.2L1145.7 928.3L1146.1 928.5L1146.5 930.4L1146.8 930.9L1147.2 922.5L1147.6 923.6L1147.9 922.3L1148.3 927.8L1148.7 920.1L1149.0 928.3L1149.4 927.8L1149.8 924.4L1150.2 925.2L1150.5 923.6L1150.9 923.5L1151.3 926.1L1151.6 928.7L1152.0 930.2L1152.4 930.1L1152.7 923.4L1153.1 920.9L1153.5 927.4L1153.9 927.9L1154.2 924.3L1154.6 929.6L1155.0 932.3L1155.3 924.0L1155.7 925.2L1156.1 925.9L1156.4 923.3L1156.8 928.8L1157.2 925.3L1157.6 932.0L1157.9 931.9L1158.3 924.3L1158.7 924.3L1159.0 926.9L1159.4 933.0L1159.8 926.9L1160.1 930.6L1160.5 928.7L1160.9 927.6L1161.3 930.2L1161.6 930.6L1162.0 925.9L1162.4 928.4L1162.7 926.4L1163.1 924.5L1163.5 930.6L1163.8 923.7L1164.2 926.9L1164.6 931.6L1165.0 932.4L1165.3 926.3L1165.7 928.4L1166.1 925.8L1166.4 923.9L1166.8 926.0L1167.2 926.2L1167.5 931.3L1167.9 929.0L1168.3 926.3L1168.7 928.7L1169.0 929.2L1169.4 931.2L1169.8 927.2L1170.1 929.5L1170.5 932.7L1170.9 931.0L1171.2 929.6L1171.6 925.3L1172.0 930.1L1172.4 925.1L1172.7 923.9L1173.1 928.4L1173.5 928.8L1173.8 928.7L1174.2 927.3L1174.6 924.5L1174.9 928.1L1175.3 931.1L1175.7 931.7L1176.1 933.3L1176.4 926.9L1176.8 927.4L1177.2 923.5L1177.5 931.5L1177.9 928.4L1178.3 932.1L1178.6 928.0L1179.0 927.7L1179.4 931.3L1179.8 929.1L1180.1 924.7L1180.5 932.3L1180.9 934.9L1181.2 927.8L1181.6 924.5L1182.0 930.6L1182.3 927.3L1182.7 930.2L1183.1 927.4L1183.5 927.9L1183.8 926.7L1184.2 927.4L1184.6 925.5L1184.9 928.4L1185.3 924.9L1185.7 929.8L1186.0 932.7L1186.4 928.3L1186.8 926.8L1187.2 923.6L1187.5 929.5L1187.9 931.6L1188.3 925.8L1188.6 932.5L1189.0 927.2L1189.4 931.6L1189.7 925.8L1190.1 929.5L1190.5 932.4L1190.9 928.6L1191.2 928.3L1191.6 927.3L1192.0 930.2L1192.3 925.0L1192.7 927.3L1193.1 926.4L1193.4 928.0L1193.8 931.8L1194.2 926.2L1194.6 925.8L1194.9 929.6L1195.3 928.3L1195.7 926.5L1196.0 929.3L1196.4 922.4L1196.8 928.9L1197.1 931.5L1197.5 930.6L1197.9 931.2L1198.3 929.4L1198.6 929.2L1199.0 930.5L1199.4 926.7L1199.7 930.1L1200.1 927.2L1200.5 930.7L1200.8 929.3L1201.2 930.5L1201.6 927.7L1202.0 927.2L1202.3 932.6L1202.7 933.8L1203.1 928.2L1203.4 928.4L1203.8 931.1L1204.2 931.4L1204.5 934.5L1204.9 929.9L1205.3 933.1L1205.7 928.4L1206.0 925.5L1206.4 931.2L1206.8 927.4L1207.1 932.4L1207.5 934.4L1207.9 926.3L1208.2 930.3L1208.6 933.3L1209.0 928.4L1209.4 933.9L1209.7 930.5L1210.1 931.1L1210.5 928.1L1210.8 928.7L1211.2 931.9L1211.6 932.9L1211.9 933.0L1212.3 931.3L1212.7 928.2L1213.1 932.5L1213.4 939.5L1213.8 931.0L1214.2 932.1L1214.5 933.5L1214.9 928.5L1215.3 928.1L1215.6 932.1L1216.0 926.6L1216.4 932.7L1216.8 936.4L1217.1 933.3L1217.5 930.2L1217.9 930.6L1218.2 931.0L1218.6 929.7L1219.0 929.5L1219.3 932.9L1219.7 932.3L1220.1 930.5L1220.5 934.4L1220.8 928.6L1221.2 930.7L1221.6 929.7L1221.9 930.9L1222.3 930.0L1222.7 931.7L1223.0 931.6L1223.4 928.4L1223.8 932.5L1224.2 931.0L1224.5 929.4L1224.9 932.8L1225.3 932.6L1225.6 934.7L1226.0 924.4L1226.4 931.3L1226.7 930.8L1227.1 928.4L1227.5 927.0L1227.9 925.5L1228.2 933.6L1228.6 929.5L1229.0 934.7L1229.3 931.2L1229.7 934.4L1230.1 931.0L1230.4 933.0L1230.8 930.8L1231.2 929.1L1231.6 930.7L1231.9 931.2L1232.3 932.2L1232.7 935.5L1233.0 932.9L1233.4 934.4L1233.8 932.9L1234.1 930.0L1234.5 935.1L1234.9 931.1L1235.3 936.8L1235.6 931.3L1236.0 936.7L1236.4 929.3L1236.7 933.5L1237.1 931.6L1237.5 930.7L1237.8 930.9L1238.2 931.2L1238.6 932.6L1239.0 931.0L1239.3 929.9L1239.7 928.1L1240.1 927.6L1240.4 932.3L1240.8 932.7L1241.2 932.4L1241.5 928.8L1241.9 934.3L1242.3 932.0L1242.7 937.6L1243.0 933.4L1243.4 931.4L1243.8 933.2L1244.1 928.8L1244.5 929.2L1244.9 931.4L1245.2 931.3L1245.6 930.6L1246.0 931.5L1246.4 934.4L1246.7 934.5L1247.1 936.5L1247.5 930.0L1247.8 931.7L1248.2 931.9L1248.6 934.0L1248.9 936.9L1249.3 931.0L1249.7 931.5L1250.1 928.8L1250.4 932.0L1250.8 930.1L1251.2 927.8L1251.5 933.2L1251.9 930.6L1252.3 934.3L1252.6 931.3L1253.0 930.1L1253.4 930.1L1253.8 930.5L1254.1 930.1L1254.5 926.8L1254.9 931.3L1255.2 933.6L1255.6 939.1L1256.0 936.1L1256.3 935.2L1256.7 932.5L1257.1 929.3L1257.5 933.5L1257.8 930.0L1258.2 929.4L1258.6 933.5L1258.9 931.9L1259.3 927.8L1259.7 929.2L1260.0 927.4L1260.4 932.7L1260.8 929.0L1261.2 929.9L1261.5 925.4L1261.9 934.4L1262.3 927.4L1262.6 930.7L1263.0 934.2L1263.4 934.7L1263.7 935.6L1264.1 935.3L1264.5 931.9L1264.9 928.1L1265.2 934.4L1265.6 938.5L1266.0 928.1L1266.3 930.5L1266.7 933.7L1267.1 932.3L1267.4 936.2L1267.8 931.3L1268.2 930.3L1268.6 932.2L1268.9 928.3L1269.3 929.4L1269.7 935.0L1270.0 930.3L1270.4 937.5L1270.8 934.3L1271.1 928.1L1271.5 934.8L1271.9 932.5L1272.3 929.9L1272.6 939.2L1273.0 934.3L1273.4 928.3L1273.7 932.6L1274.1 932.1L1274.5 934.6L1274.8 930.3L1275.2 928.0L1275.6 933.1L1276.0 935.0L1276.3 928.0L1276.7 932.3L1277.1 933.0L1277.4 933.7L1277.8 927.8L1278.2 928.6L1278.5 932.8L1278.9 931.2L1279.3 933.3L1279.7 931.3L1280.0 934.0L1280.4 928.2L1280.8 928.2L1281.1 927.4L1281.5 930.5L1281.9 934.3L1282.2 932.4L1282.6 932.8L1283.0 929.0L1283.4 934.3L1283.7 934.0L1284.1 931.8L1284.5 933.9L1284.8 926.9L1285.2 924.9L1285.6 926.7L1285.9 925.7L1286.3 929.1L1286.7 934.7L1287.1 927.6L1287.4 931.9L1287.8 925.5L1288.2 923.5L1288.5 932.0L1288.9 929.9L1289.3 927.3L1289.6 934.3L1290.0 927.8L1290.4 930.5L1290.8 930.4L1291.1 932.1L1291.5 930.1L1291.9 932.0L1292.2 931.6L1292.6 930.9L1293.0 930.8L1293.3 934.1L1293.7 934.4L1294.1 924.6L1294.5 927.7L1294.8 929.9L1295.2 928.6L1295.6 928.4L1295.9 933.1L1296.3 935.0L1296.7 932.9L1297.0 929.1L1297.4 927.2L1297.8 923.6L1298.2 922.2L1298.5 932.4L1298.9 928.2L1299.3 925.0L1299.6 925.5L1300.0 926.5L1300.4 933.9L1300.7 928.6L1301.1 929.2L1301.5 931.6L1301.9 925.2L1302.2 931.0L1302.6 933.1L1303.0 928.7L1303.3 927.9L1303.7 932.7L1304.1 928.9L1304.4 930.1L1304.8 927.8L1305.2 926.5L1305.6 929.3L1305.9 935.1L1306.3 927.4L1306.7 924.3L1307.0 927.1L1307.4 928.3L1307.8 930.4L1308.1 926.9L1308.5 928.2L1308.9 932.2L1309.3 931.4L1309.6 921.2L1310.0 927.7L1310.4 923.7L1310.7 923.9L1311.1 931.6L1311.5 922.4L1311.8 926.2L1312.2 933.5L1312.6 922.7L1313.0 927.8L1313.3 923.2L1313.7 925.0L1314.1 928.5L1314.4 925.1L1314.8 929.2L1315.2 921.5L1315.5 924.0L1315.9 929.0L1316.3 929.0L1316.7 932.2L1317.0 927.4L1317.4 923.1L1317.8 926.1L1318.1 925.2L1318.5 926.6L1318.9 931.8L1319.2 929.1L1319.6 926.4L1320.0 927.0L1320.4 928.8L1320.7 929.7L1321.1 926.4L1321.5 926.8L1321.8 931.4L1322.2 931.4L1322.6 924.8L1322.9 927.2L1323.3 926.3L1323.7 928.6L1324.1 923.5L1324.4 926.6L1324.8 926.1L1325.2 929.4L1325.5 926.1L1325.9 928.9L1326.3 926.9L1326.6 929.1L1327.0 927.1L1327.4 926.5L1327.8 928.8L1328.1 930.1L1328.5 925.8L1328.9 920.9L1329.2 927.2L1329.6 927.3L1330.0 925.1L1330.3 922.8L1330.7 923.2L1331.1 926.4L1331.5 928.3L1331.8 929.3L1332.2 926.0L1332.6 929.0L1332.9 928.6L1333.3 928.0L1333.7 927.9L1334.0 925.8L1334.4 927.8L1334.8 927.1L1335.2 926.5L1335.5 932.4L1335.9 925.4L1336.3 929.7L1336.6 920.3L1337.0 929.5L1337.4 927.9L1337.7 924.5L1338.1 925.0L1338.5 929.3L1338.9 927.1L1339.2 925.2L1339.6 924.7L1340.0 925.4L1340.3 926.7L1340.7 930.0L1341.1 922.7L1341.4 925.2L1341.8 927.3L1342.2 926.8L1342.6 923.0L1342.9 926.1L1343.3 918.3L1343.7 926.2L1344.0 924.3L1344.4 921.7L1344.8 923.6L1345.1 920.9L1345.5 925.7L1345.9 924.1L1346.3 923.7L1346.6 927.5L1347.0 921.0L1347.4 922.7L1347.7 925.7L1348.1 926.6L1348.5 928.0L1348.8 919.4L1349.2 924.9L1349.6 924.1L1350.0 925.8L1350.3 923.0L1350.7 919.7L1351.1 923.7L1351.4 919.2L1351.8 918.0L1352.2 922.5L1352.5 925.7L1352.9 929.5L1353.3 921.4L1353.7 922.4L1354.0 923.3L1354.4 924.6L1354.8 927.3L1355.1 925.3L1355.5 923.2L1355.9 923.7L1356.2 922.7L1356.6 921.1L1357.0 922.3L1357.4 917.8L1357.7 929.7L1358.1 924.7L1358.5 924.2L1358.8 925.3L1359.2 921.0L1359.6 922.3L1359.9 923.7L1360.3 926.7L1360.7 924.8L1361.1 918.3L1361.4 920.7L1361.8 920.9L1362.2 921.0L1362.5 925.0L1362.9 921.0L1363.3 918.8L1363.6 921.0L1364.0 923.0L1364.4 920.2L1364.8 921.4L1365.1 920.5L1365.5 925.0L1365.9 921.9L1366.2 924.3L1366.6 918.6L1367.0 917.8L1367.3 920.7L1367.7 919.2L1368.1 919.9L1368.5 918.9L1368.8 920.8L1369.2 920.2L1369.6 916.4L1369.9 920.7L1370.3 917.0L1370.7 921.3L1371.0 924.3L1371.4 923.2L1371.8 918.5L1372.2 914.3L1372.5 925.9L1372.9 921.2L1373.3 917.5L1373.6 914.6L1374.0 919.4L1374.4 921.9L1374.7 920.5L1375.1 921.6L1375.5 924.2L1375.9 916.5L1376.2 918.0L1376.6 919.7L1377.0 921.1L1377.3 919.4L1377.7 920.5L1378.1 920.8L1378.4 921.9L1378.8 916.7L1379.2 917.1L1379.6 917.7L1379.9 917.6L1380.3 925.7L1380.7 919.1L1381.0 921.6L1381.4 919.1L1381.8 919.6L1382.1 921.4L1382.5 924.2L1382.9 921.9L1383.3 918.2L1383.6 915.4L1384.0 920.7L1384.4 918.2L1384.7 918.9L1385.1 919.9L1385.5 919.0L1385.8 919.7L1386.2 919.0L1386.6 920.1L1387.0 921.7L1387.3 915.5L1387.7 915.8L1388.1 924.7L1388.4 924.5L1388.8 920.7L1389.2 925.3L1389.5 924.5L1389.9 923.1L1390.3 925.1L1390.7 917.9L1391.0 920.4L1391.4 916.6L1391.8 920.6L1392.1 921.2L1392.5 923.7L1392.9 922.8L1393.2 920.8L1393.6 924.3L1394.0 919.2L1394.4 918.8L1394.7 922.9L1395.1 923.5L1395.5 920.0L1395.8 921.5L1396.2 924.2L1396.6 923.7L1396.9 917.3L1397.3 920.7L1397.7 918.1L1398.1 920.6L1398.4 921.2L1398.8 922.5L1399.2 928.2L1399.5 916.9L1399.9 916.3L1400.3 917.8L1400.6 923.2L1401.0 921.6L1401.4 922.0L1401.8 925.4L1402.1 921.7L1402.5 917.5L1402.9 919.6L1403.2 920.1L1403.6 921.6L1404.0 919.4L1404.3 917.8L1404.7 917.5L1405.1 918.5L1405.5 922.9" fill="none" stroke="#000" stroke-width="3" stroke-linejoin="round" shape-rendering="crispEdges"/>
<path d="M410.1 445L412.8 445L413.9 446.3L413.9 451L415.7 452.5L415.9 463.7L418.8 466.3L418.5 470L413.2 467.7L411 467.7L407.9 472.8L406.1 475L406.1 458.7L407 455.4L409 453.5L409.2 446.3Z" fill="#000"/>
<path d="M116.0 529.9L116.4 528.6L116.7 531.4L117.1 533.1L117.5 535.0L117.9 532.3L118.2 530.6L118.6 530.0L119.0 533.9L119.3 536.3L119.7 532.7L120.1 528.8L120.4 529.5L120.8 536.2L121.2 532.5L121.6 527.5L121.9 531.8L122.3 529.0L122.7 530.4L123.0 530.7L123.4 530.1L123.8 533.4L124.1 531.8L124.5 530.5L124.9 533.1L125.3 534.2L125.6 527.7L126.0 531.3L126.4 529.4L126.7 531.5L127.1 528.6L127.5 532.0L127.8 531.8L128.2 531.0L128.6 529.1L129.0 530.7L129.3 528.9L129.7 528.1L130.1 532.2L130.4 528.7L130.8 534.6L131.2 533.3L131.5 526.1L131.9 532.0L132.3 528.4L132.7 531.3L133.0 531.2L133.4 525.8L133.8 530.4L134.1 530.2L134.5 533.4L134.9 527.7L135.2 532.6L135.6 527.7L136.0 529.7L136.4 528.3L136.7 534.2L137.1 531.8L137.5 536.7L137.8 531.9L138.2 532.4L138.6 532.3L138.9 528.4L139.3 529.8L139.7 533.4L140.1 528.8L140.4 530.3L140.8 529.7L141.2 531.3L141.5 528.7L141.9 529.2L142.3 530.1L142.6 529.7L143.0 527.1L143.4 531.7L143.8 525.9L144.1 526.1L144.5 525.8L144.9 531.7L145.2 528.1L145.6 526.5L146.0 526.0L146.3 530.0L146.7 526.1L147.1 525.4L147.5 530.4L147.8 525.5L148.2 527.8L148.6 528.6L148.9 527.4L149.3 528.3L149.7 532.0L150.0 527.0L150.4 525.0L150.8 523.4L151.2 527.7L151.5 527.2L151.9 528.8L152.3 526.8L152.6 526.7L153.0 526.0L153.4 526.5L153.7 528.2L154.1 526.7L154.5 527.9L154.9 532.6L155.2 528.8L155.6 523.3L156.0 532.0L156.3 528.3L156.7 524.8L157.1 529.6L157.4 527.2L157.8 525.5L158.2 525.3L158.6 524.3L158.9 527.0L159.3 529.7L159.7 525.9L160.0 527.8L160.4 531.6L160.8 523.3L161.1 527.2L161.5 525.6L161.9 523.6L162.3 523.6L162.6 526.2L163.0 527.3L163.4 524.7L163.7 526.2L164.1 527.9L164.5 526.7L164.8 528.1L165.2 527.0L165.6 527.0L166.0 530.5L166.3 527.2L166.7 525.8L167.1 527.3L167.4 522.8L167.8 524.3L168.2 527.2L168.5 526.7L168.9 529.1L169.3 524.9L169.7 520.8L170.0 529.9L170.4 527.5L170.8 521.6L171.1 528.0L171.5 524.3L171.9 519.3L172.2 522.9L172.6 522.5L173.0 528.0L173.4 521.5L173.7 522.8L174.1 522.6L174.5 522.2L174.8 520.6L175.2 523.5L175.6 525.7L175.9 524.3L176.3 520.0L176.7 519.3L177.1 522.5L177.4 520.1L177.8 520.2L178.2 517.2L178.5 526.8L178.9 523.8L179.3 518.6L179.6 523.5L180.0 524.5L180.4 514.3L180.8 519.1L181.1 519.3L181.5 522.0L181.9 519.7L182.2 519.3L182.6 519.6L183.0 524.5L183.3 525.2L183.7 517.8L184.1 516.6L184.5 526.2L184.8 516.1L185.2 517.1L185.6 518.6L185.9 519.6L186.3 520.9L186.7 519.1L187.0 515.5L187.4 519.1L187.8 518.2L188.2 522.5L188.5 517.2L188.9 513.5L189.3 514.2L189.6 520.7L190.0 515.2L190.4 510.8L190.7 514.8L191.1 516.2L191.5 519.4L191.9 513.1L192.2 517.7L192.6 517.9L193.0 513.5L193.3 514.8L193.7 520.2L194.1 520.0L194.4 517.4L194.8 515.7L195.2 517.9L195.6 514.1L195.9 514.1L196.3 511.7L196.7 514.1L197.0 513.7L197.4 522.0L197.8 513.0L198.1 517.3L198.5 517.3L198.9 512.6L199.3 516.6L199.6 506.2L200.0 513.0L200.4 515.2L200.7 505.0L201.1 508.7L201.5 515.4L201.8 511.2L202.2 508.4L202.6 510.5L203.0 509.9L203.3 513.7L203.7 512.7L204.1 510.3L204.4 508.9L204.8 510.7L205.2 515.1L205.5 511.8L205.9 512.6L206.3 509.8L206.7 505.9L207.0 507.7L207.4 512.1L207.8 510.1L208.1 506.6L208.5 504.1L208.9 509.8L209.2 508.1L209.6 507.9L210.0 507.8L210.4 509.8L210.7 509.7L211.1 511.8L211.5 511.6L211.8 512.9L212.2 510.9L212.6 506.7L212.9 507.6L213.3 509.3L213.7 506.3L214.1 509.2L214.4 511.2L214.8 504.0L215.2 500.3L215.5 510.8L215.9 506.4L216.3 508.7L216.6 501.2L217.0 512.0L217.4 508.2L217.8 504.9L218.1 503.8L218.5 505.3L218.9 504.0L219.2 503.3L219.6 500.0L220.0 508.4L220.3 503.4L220.7 503.6L221.1 503.4L221.5 494.2L221.8 504.4L222.2 501.0L222.6 500.9L222.9 501.9L223.3 497.8L223.7 504.1L224.0 498.2L224.4 497.2L224.8 497.0L225.2 500.5L225.5 502.3L225.9 497.1L226.3 493.5L226.6 502.6L227.0 494.6L227.4 502.6L227.7 497.7L228.1 495.1L228.5 495.1L228.9 498.8L229.2 500.1L229.6 495.9L230.0 499.9L230.3 503.8L230.7 495.2L231.1 491.5L231.4 491.6L231.8 490.2L232.2 492.7L232.6 492.2L232.9 489.8L233.3 496.4L233.7 484.7L234.0 489.2L234.4 501.3L234.8 497.5L235.1 495.5L235.5 495.0L235.9 499.7L236.3 495.0L236.6 493.1L237.0 488.1L237.4 492.2L237.7 489.6L238.1 489.5L238.5 489.3L238.8 491.6L239.2 490.4L239.6 494.6L240.0 486.3L240.3 490.4L240.7 497.8L241.1 490.9L241.4 495.0L241.8 494.6L242.2 495.1L242.5 492.8L242.9 484.7L243.3 488.7L243.7 488.1L244.0 483.5L244.4 487.4L244.8 484.3L245.1 482.5L245.5 489.3L245.9 488.2L246.2 485.6L246.6 484.4L247.0 485.7L247.4 486.0L247.7 485.8L248.1 486.9L248.5 485.3L248.8 488.2L249.2 488.5L249.6 487.6L249.9 483.6L250.3 483.6L250.7 487.3L251.1 484.7L251.4 485.1L251.8 475.6L252.2 474.6L252.5 485.9L252.9 485.6L253.3 489.4L253.6 486.7L254.0 484.6L254.4 483.6L254.8 477.9L255.1 486.4L255.5 480.5L255.9 484.5L256.2 483.1L256.6 483.2L257.0 485.3L257.3 479.8L257.7 480.0L258.1 478.0L258.5 479.5L258.8 487.0L259.2 479.1L259.6 484.7L259.9 483.1L260.3 482.5L260.7 482.6L261.0 475.4L261.4 480.4L261.8 484.8L262.2 475.8L262.5 478.0L262.9 475.3L263.3 478.9L263.6 473.2L264.0 483.3L264.4 475.4L264.7 470.5L265.1 483.2L265.5 479.7L265.9 477.7L266.2 477.4L266.6 473.6L267.0 473.9L267.3 477.3L267.7 477.7L268.1 477.5L268.4 474.3L268.8 471.3L269.2 472.1L269.6 476.9L269.9 477.9L270.3 470.6L270.7 469.7L271.0 476.3L271.4 473.9L271.8 473.5L272.1 465.1L272.5 468.6L272.9 467.7L273.3 470.3L273.6 462.4L274.0 474.0L274.4 469.8L274.7 470.0L275.1 463.2L275.5 467.6L275.8 472.8L276.2 460.7L276.6 468.1L277.0 469.4L277.3 463.5L277.7 469.4L278.1 464.4L278.4 470.6L278.8 467.5L279.2 466.0L279.5 473.1L279.9 468.0L280.3 469.7L280.7 459.2L281.0 461.2L281.4 467.1L281.8 467.2L282.1 462.9L282.5 466.2L282.9 458.3L283.2 463.4L283.6 457.4L284.0 463.4L284.4 459.7L284.7 458.8L285.1 461.5L285.5 468.7L285.8 456.5L286.2 458.0L286.6 464.8L286.9 458.3L287.3 467.3L287.7 460.5L288.1 459.7L288.4 460.5L288.8 466.2L289.2 461.3L289.5 460.4L289.9 458.9L290.3 450.8L290.6 453.4L291.0 463.3L291.4 460.1L291.8 458.4L292.1 458.7L292.5 453.2L292.9 456.6L293.2 450.8L293.6 456.0L294.0 450.7L294.3 452.4L294.7 454.9L295.1 451.0L295.5 454.7L295.8 453.4L296.2 452.5L296.6 456.2L296.9 443.4L297.3 442.3L297.7 451.6L298.0 452.6L298.4 456.9L298.8 450.8L299.2 450.7L299.5 442.6L299.9 449.5L300.3 448.7L300.6 440.6L301.0 440.9L301.4 444.0L301.7 445.3L302.1 430.4L302.5 443.6L302.9 443.9L303.2 441.6L303.6 443.3L304.0 443.7L304.3 436.7L304.7 442.8L305.1 439.4L305.4 435.9L305.8 440.8L306.2 446.3L306.6 432.5L306.9 431.3L307.3 431.0L307.7 447.4L308.0 436.9L308.4 437.5L308.8 433.9L309.1 432.9L309.5 427.6L309.9 437.5L310.3 437.7L310.6 427.1L311.0 431.2L311.4 432.3L311.7 435.5L312.1 436.5L312.5 440.4L312.8 441.3L313.2 439.7L313.6 440.8L314.0 428.8L314.3 431.4L314.7 439.2L315.1 434.9L315.4 433.4L315.8 423.7L316.2 424.0L316.5 436.0L316.9 433.9L317.3 430.7L317.7 429.8L318.0 423.3L318.4 433.0L318.8 435.9L319.1 438.5L319.5 430.6L319.9 429.0L320.2 424.4L320.6 435.3L321.0 437.3L321.4 425.7L321.7 429.8L322.1 428.5L322.5 424.9L322.8 415.1L323.2 425.2L323.6 429.6L323.9 419.1L324.3 421.7L324.7 409.6L325.1 431.6L325.4 427.3L325.8 424.7L326.2 422.7L326.5 420.5L326.9 422.9L327.3 421.4L327.6 421.3L328.0 422.1L328.4 422.5L328.8 429.5L329.1 413.7L329.5 422.2L329.9 417.2L330.2 414.2L330.6 407.4L331.0 422.6L331.3 413.9L331.7 414.8L332.1 420.9L332.5 412.3L332.8 417.9L333.2 417.0L333.6 421.4L333.9 422.2L334.3 411.9L334.7 421.2L335.0 415.5L335.4 416.4L335.8 414.3L336.2 419.4L336.5 408.3L336.9 416.1L337.3 420.9L337.6 412.6L338.0 425.1L338.4 409.6L338.7 414.5L339.1 410.4L339.5 409.4L339.9 406.3L340.2 409.3L340.6 411.7L341.0 407.3L341.3 416.4L341.7 419.6L342.1 402.6L342.4 415.3L342.8 411.5L343.2 411.5L343.6 423.2L343.9 416.2L344.3 411.3L344.7 410.2L345.0 397.6L345.4 412.9L345.8 404.7L346.1 409.3L346.5 408.7L346.9 412.9L347.3 418.2L347.6 412.6L348.0 413.9L348.4 406.0L348.7 409.3L349.1 410.7L349.5 399.5L349.8 416.8L350.2 402.9L350.6 399.9L351.0 414.2L351.3 416.5L351.7 402.5L352.1 402.9L352.4 420.9L352.8 406.3L353.2 396.1L353.5 402.7L353.9 415.1L354.3 408.7L354.7 409.1L355.0 411.2L355.4 408.6L355.8 403.9L356.1 398.0L356.5 407.4L356.9 400.2L357.2 405.1L357.6 413.3L358.0 407.8L358.4 405.6L358.7 405.6L359.1 408.5L359.5 409.3L359.8 399.4L360.2 406.0L360.6 412.8L360.9 408.5L361.3 401.8L361.7 402.2L362.1 396.1L362.4 401.7L362.8 412.2L363.2 404.8L363.5 401.4L363.9 402.6L364.3 404.6L364.6 404.6L365.0 403.5L365.4 401.7L365.8 407.8L366.1 411.7L366.5 402.5L366.9 402.6L367.2 410.2L367.6 398.6L368.0 402.4L368.3 403.3L368.7 405.6L369.1 403.7L369.5 401.0L369.8 406.2L370.2 399.7L370.6 397.2L370.9 396.0L371.3 408.0L371.7 397.2L372.0 406.6L372.4 407.5L372.8 408.0L373.2 403.7L373.5 402.0L373.9 404.7L374.3 401.7L374.6 398.6L375.0 409.4L375.4 400.0L375.7 411.5L376.1 405.9L376.5 401.5L376.9 405.2L377.2 408.5L377.6 397.1L378.0 398.9L378.3 398.2L378.7 403.3L379.1 404.1L379.4 402.4L379.8 398.9L380.2 399.6L380.6 406.8L380.9 406.3L381.3 401.9L381.7 395.6L382.0 403.7L382.4 402.0L382.8 401.7L383.1 407.8L383.5 403.7L383.9 395.9L384.3 395.8L384.6 405.6L385.0 400.4L385.4 403.1L385.7 398.7L386.1 395.0L386.5 400.2L386.8 405.5L387.2 400.2L387.6 393.8L388.0 397.1L388.3 396.2L388.7 398.9L389.1 402.4L389.4 406.3L389.8 398.8L390.2 396.0L390.5 398.0L390.9 397.6L391.3 395.7L391.7 397.5L392.0 397.3L392.4 392.2L392.8 399.4L393.1 395.5L393.5 392.8L393.9 398.8L394.2 394.6L394.6 403.9L395.0 398.5L395.4 396.7L395.7 393.1L396.1 394.4L396.5 399.6L396.8 393.0L397.2 398.9L397.6 386.8L397.9 396.3L398.3 398.7L398.7 396.5L399.1 394.8L399.4 398.8L399.8 390.7L400.2 389.9L400.5 394.1L400.9 398.2L401.3 394.6L401.6 391.6L402.0 393.3L402.4 393.4L402.8 386.0L403.1 379.1L403.5 386.1L403.9 383.8L404.2 387.2L404.6 384.3L405.0 385.3L405.3 390.4L405.7 388.8L406.1 388.1L406.5 394.9L406.8 386.0L407.2 386.3L407.6 393.1L407.9 383.3L408.3 381.2L408.7 393.4L409.0 389.5L409.4 390.7L409.8 391.0L410.2 392.2L410.5 386.7L410.9 388.6L411.3 384.4L411.6 389.9L412.0 390.5L412.4 387.8L412.7 392.9L413.1 403.2L413.5 385.5L413.9 394.5L414.2 395.3L414.6 396.2L415.0 388.1L415.3 397.5L415.7 395.3L416.1 392.0L416.4 391.3L416.8 394.4L417.2 398.1L417.6 398.3L417.9 405.6L418.3 393.5L418.7 398.7L419.0 394.2L419.4 400.8L419.8 398.2L420.1 395.3L420.5 392.3L420.9 395.7L421.3 401.5L421.6 408.4L422.0 405.6L422.4 396.1L422.7 400.4L423.1 403.7L423.5 403.4L423.8 405.0L424.2 409.3L424.6 406.8L425.0 402.3L425.3 396.1L425.7 405.0L426.1 398.2L426.4 406.8L426.8 409.7L427.2 401.1L427.5 408.0L427.9 407.2L428.3 419.8L428.7 412.3L429.0 399.8L429.4 412.9L429.8 413.1L430.1 410.1L430.5 409.5L430.9 415.2L431.2 416.0L431.6 415.0L432.0 407.5L432.4 411.9L432.7 405.0L433.1 405.7L433.5 411.2L433.8 408.8L434.2 412.7L434.6 429.2L434.9 418.4L435.3 411.0L435.7 404.1L436.1 411.8L436.4 408.8L436.8 404.7L437.2 421.5L437.5 415.0L437.9 420.5L438.3 435.8L438.6 420.1L439.0 419.5L439.4 421.1L439.8 417.9L440.1 415.0L440.5 418.8L440.9 426.8L441.2 419.0L441.6 413.0L442.0 413.9L442.3 415.4L442.7 421.7L443.1 424.6L443.5 424.9L443.8 429.2L444.2 421.5L444.6 427.8L444.9 425.1L445.3 427.6L445.7 413.1L446.0 431.2L446.4 415.3L446.8 418.0L447.2 429.2L447.5 422.8L447.9 435.4L448.3 426.4L448.6 419.8L449.0 426.8L449.4 423.9L449.7 435.2L450.1 435.9L450.5 431.0L450.9 424.7L451.2 427.7L451.6 433.3L452.0 423.0L452.3 423.3L452.7 432.8L453.1 432.3L453.4 427.0L453.8 427.0L454.2 417.7L454.6 435.5L454.9 428.4L455.3 421.2L455.7 423.0L456.0 424.5L456.4 439.2L456.8 433.7L457.1 422.5L457.5 440.5L457.9 437.8L458.3 424.6L458.6 415.9L459.0 436.2L459.4 427.6L459.7 430.4L460.1 428.3L460.5 438.4L460.8 439.7L461.2 436.2L461.6 431.0L462.0 433.4L462.3 435.5L462.7 423.5L463.1 439.2L463.4 430.7L463.8 434.0L464.2 433.4L464.5 437.8L464.9 438.8L465.3 445.1L465.7 431.2L466.0 428.4L466.4 434.1L466.8 430.0L467.1 438.3L467.5 429.4L467.9 434.6L468.2 439.0L468.6 439.5L469.0 435.3L469.4 441.9L469.7 441.3L470.1 425.3L470.5 436.5L470.8 435.6L471.2 433.2L471.6 431.5L471.9 435.2L472.3 437.1L472.7 436.7L473.1 442.6L473.4 440.7L473.8 432.4L474.2 431.6L474.5 440.2L474.9 432.2L475.3 436.8L475.6 438.6L476.0 441.6L476.4 439.0L476.8 444.0L477.1 434.1L477.5 440.2L477.9 433.4L478.2 437.9L478.6 437.7L479.0 432.4L479.3 423.8L479.7 442.5L480.1 439.5L480.5 438.5L480.8 434.3L481.2 436.4L481.6 440.6L481.9 438.6L482.3 444.6L482.7 439.4L483.0 434.7L483.4 442.3L483.8 436.1L484.2 440.6L484.5 430.4L484.9 438.1L485.3 442.9L485.6 436.9L486.0 440.3L486.4 443.7L486.7 441.2L487.1 450.2L487.5 439.9L487.9 440.5L488.2 440.8L488.6 431.7L489.0 434.2L489.3 445.0L489.7 440.7L490.1 449.7L490.4 442.4L490.8 442.2L491.2 448.5L491.6 444.8L491.9 451.8L492.3 438.4L492.7 446.3L493.0 447.7L493.4 447.2L493.8 450.5L494.1 450.0L494.5 445.2L494.9 442.4L495.3 450.3L495.6 445.8L496.0 450.6L496.4 452.8L496.7 447.2L497.1 441.8L497.5 445.2L497.8 450.7L498.2 445.7L498.6 453.0L499.0 447.4L499.3 448.1L499.7 444.4L500.1 447.2L500.4 453.4L500.8 446.3L501.2 446.5L501.5 444.4L501.9 452.3L502.3 440.9L502.7 445.4L503.0 453.4L503.4 456.0L503.8 448.0L504.1 454.0L504.5 439.4L504.9 453.2L505.2 451.0L505.6 443.6L506.0 441.0L506.4 447.5L506.7 451.4L507.1 452.1L507.5 450.9L507.8 454.3L508.2 454.1L508.6 444.0L508.9 449.0L509.3 448.5L509.7 456.3L510.1 448.9L510.4 456.5L510.8 452.1L511.2 463.3L511.5 451.7L511.9 452.1L512.3 451.7L512.6 453.1L513.0 464.5L513.4 450.2L513.8 448.6L514.1 452.0L514.5 456.4L514.9 448.5L515.2 457.4L515.6 457.4L516.0 453.0L516.3 452.8L516.7 450.3L517.1 453.0L517.5 450.6L517.8 460.7L518.2 462.8L518.6 453.7L518.9 455.0L519.3 446.2L519.7 453.0L520.0 457.4L520.4 457.3L520.8 456.7L521.2 460.4L521.5 457.0L521.9 454.9L522.3 464.6L522.6 447.9L523.0 451.7L523.4 453.9L523.7 454.2L524.1 454.2L524.5 457.0L524.9 454.8L525.2 458.2L525.6 461.4L526.0 458.9L526.3 459.6L526.7 454.7L527.1 454.0L527.4 458.2L527.8 464.1L528.2 461.7L528.6 465.2L528.9 464.9L529.3 465.7L529.7 456.9L530.0 466.6L530.4 464.5L530.8 470.8L531.1 464.1L531.5 463.0L531.9 461.1L532.3 462.6L532.6 454.5L533.0 461.1L533.4 462.2L533.7 467.0L534.1 459.7L534.5 463.4L534.8 471.2L535.2 460.8L535.6 467.0L536.0 461.0L536.3 463.1L536.7 465.7L537.1 467.7L537.4 461.8L537.8 459.6L538.2 470.9L538.5 465.1L538.9 467.9L539.3 468.6L539.7 468.0L540.0 463.7L540.4 464.4L540.8 458.4L541.1 466.0L541.5 463.3L541.9 465.4L542.2 473.6L542.6 468.6L543.0 466.1L543.4 460.2L543.7 469.2L544.1 472.7L544.5 462.9L544.8 468.3L545.2 464.5L545.6 466.2L545.9 465.5L546.3 460.5L546.7 465.2L547.1 460.8L547.4 473.3L547.8 472.1L548.2 468.2L548.5 469.3L548.9 468.6L549.3 469.4L549.6 469.6L550.0 468.0L550.4 468.5L550.8 464.0L551.1 465.7L551.5 467.5L551.9 471.1L552.2 469.1L552.6 478.4L553.0 470.5L553.3 470.2L553.7 473.7L554.1 476.4L554.5 479.9L554.8 476.9L555.2 471.2L555.6 473.2L555.9 478.3L556.3 475.6L556.7 478.0L557.0 474.9L557.4 481.6L557.8 481.3L558.2 480.3L558.5 476.9L558.9 470.5L559.3 471.7L559.6 478.2L560.0 479.6L560.4 466.6L560.7 475.9L561.1 482.1L561.5 481.6L561.9 476.4L562.2 480.8L562.6 478.8L563.0 478.0L563.3 483.2L563.7 483.5L564.1 477.5L564.4 476.1L564.8 474.9L565.2 474.7L565.6 485.1L565.9 487.2L566.3 481.3L566.7 484.5L567.0 478.3L567.4 480.7L567.8 484.5L568.1 482.5L568.5 481.4L568.9 475.5L569.3 476.5L569.6 480.5L570.0 480.1L570.4 482.1L570.7 480.1L571.1 481.9L571.5 483.0L571.8 484.9L572.2 483.4L572.6 481.3L573.0 482.5L573.3 487.0L573.7 483.1L574.1 480.5L574.4 480.5L574.8 485.4L575.2 486.6L575.5 489.2L575.9 483.7L576.3 490.1L576.7 484.0L577.0 484.6L577.4 483.6L577.8 487.7L578.1 489.8L578.5 486.1L578.9 484.6L579.2 481.0L579.6 487.3L580.0 485.7L580.4 486.4L580.7 485.1L581.1 484.4L581.5 486.2L581.8 489.6L582.2 491.6L582.6 488.3L582.9 489.7L583.3 488.0L583.7 488.5L584.1 484.2L584.4 492.5L584.8 491.6L585.2 494.9L585.5 487.7L585.9 490.5L586.3 486.9L586.6 491.3L587.0 490.2L587.4 493.3L587.8 490.5L588.1 493.5L588.5 489.6L588.9 493.7L589.2 490.7L589.6 490.4L590.0 492.4L590.3 493.6L590.7 487.4L591.1 487.2L591.5 493.5L591.8 492.8L592.2 485.9L592.6 487.2L592.9 490.7L593.3 494.8L593.7 494.5L594.0 497.5L594.4 498.3L594.8 502.7L595.2 489.2L595.5 494.4L595.9 498.5L596.3 490.3L596.6 489.9L597.0 495.8L597.4 499.1L597.7 499.8L598.1 489.2L598.5 491.3L598.9 495.4L599.2 494.0L599.6 497.2L600.0 496.6L600.3 502.5L600.7 496.2L601.1 497.2L601.4 496.9L601.8 500.7L602.2 492.9L602.6 498.4L602.9 494.4L603.3 492.2L603.7 501.6L604.0 499.4L604.4 502.6L604.8 498.7L605.1 500.2L605.5 498.5L605.9 500.2L606.3 496.8L606.6 504.5L607.0 495.4L607.4 504.7L607.7 498.1L608.1 502.0L608.5 499.5L608.8 500.8L609.2 504.6L609.6 500.0L610.0 496.2L610.3 500.6L610.7 502.2L611.1 491.3L611.4 503.6L611.8 504.1L612.2 494.1L612.5 500.0L612.9 503.6L613.3 496.7L613.7 499.5L614.0 499.9L614.4 503.3L614.8 505.4L615.1 501.5L615.5 502.0L615.9 505.2L616.2 504.0L616.6 501.9L617.0 507.1L617.4 497.6L617.7 503.3L618.1 501.4L618.5 501.3L618.8 503.9L619.2 503.5L619.6 512.2L619.9 506.0L620.3 505.1L620.7 509.9L621.1 507.8L621.4 497.8L621.8 504.9L622.2 507.3L622.5 502.7L622.9 506.0L623.3 503.5L623.6 506.6L624.0 499.7L624.4 498.7L624.8 503.8L625.1 506.6L625.5 510.6L625.9 505.1L626.2 503.6L626.6 509.6L627.0 506.6L627.3 512.9L627.7 506.4L628.1 500.0L628.5 504.1L628.8 503.7L629.2 502.3L629.6 504.5L629.9 504.9L630.3 506.4L630.7 505.6L631.0 509.0L631.4 509.2L631.8 508.4L632.2 508.6L632.5 501.5L632.9 502.3L633.3 505.2L633.6 509.2L634.0 503.3L634.4 507.1L634.7 509.5L635.1 515.6L635.5 509.7L635.9 507.1L636.2 512.8L636.6 509.8L637.0 508.2L637.3 513.1L637.7 506.2L638.1 510.1L638.4 509.8L638.8 512.7L639.2 505.8L639.6 505.3L639.9 508.5L640.3 509.0L640.7 510.1L641.0 508.8L641.4 511.6L641.8 512.6L642.1 511.0L642.5 506.7L642.9 514.3L643.3 505.1L643.6 509.7L644.0 513.5L644.4 508.4L644.7 515.0L645.1 517.1L645.5 516.0L645.8 512.1L646.2 514.0L646.6 508.9L647.0 512.0L647.3 512.2L647.7 511.0L648.1 511.2L648.4 510.0L648.8 504.0L649.2 512.0L649.5 511.7L649.9 517.6L650.3 513.0L650.7 510.8L651.0 513.5L651.4 512.7L651.8 510.5L652.1 509.2L652.5 505.5L652.9 510.9L653.2 515.9L653.6 504.1L654.0 507.2L654.4 512.9L654.7 511.0L655.1 511.7L655.5 504.0L655.8 508.3L656.2 511.9L656.6 512.2L656.9 511.2L657.3 507.2L657.7 511.9L658.1 506.1L658.4 506.9L658.8 506.1L659.2 514.8L659.5 508.6L659.9 510.2L660.3 502.6L660.6 513.6L661.0 511.4L661.4 504.4L661.8 504.5L662.1 515.4L662.5 506.7L662.9 515.9L663.2 508.2L663.6 501.6L664.0 513.4L664.3 511.4L664.7 512.0L665.1 508.1L665.5 509.1L665.8 512.9L666.2 507.0L666.6 503.3L666.9 512.8L667.3 507.7L667.7 514.0L668.0 508.2L668.4 508.3L668.8 508.9L669.2 502.0L669.5 513.6L669.9 507.7L670.3 509.1L670.6 514.6L671.0 510.1L671.4 512.7L671.7 510.8L672.1 512.3L672.5 510.7L672.9 513.5L673.2 509.1L673.6 511.3L674.0 507.4L674.3 513.6L674.7 502.7L675.1 510.4L675.4 510.9L675.8 510.9L676.2 509.7L676.6 514.1L676.9 516.6L677.3 507.8L677.7 503.6L678.0 506.2L678.4 507.1L678.8 509.3L679.1 509.6L679.5 513.2L679.9 508.4L680.3 509.6L680.6 510.1L681.0 506.9L681.4 508.7L681.7 518.6L682.1 509.5L682.5 506.7L682.8 502.8L683.2 513.1L683.6 508.7L684.0 507.7L684.3 517.6L684.7 514.4L685.1 504.3L685.4 508.7L685.8 513.0L686.2 512.5L686.5 506.3L686.9 515.5L687.3 515.8L687.7 506.4L688.0 504.3L688.4 505.5L688.8 512.1L689.1 513.4L689.5 510.6L689.9 508.1L690.2 509.8L690.6 511.9L691.0 506.3L691.4 504.8L691.7 509.9L692.1 514.1L692.5 510.8L692.8 510.8L693.2 508.1L693.6 513.2L693.9 505.0L694.3 510.1L694.7 508.5L695.1 509.9L695.4 507.5L695.8 512.8L696.2 510.2L696.5 508.6L696.9 512.1L697.3 510.3L697.6 508.9L698.0 508.7L698.4 513.0L698.8 507.6L699.1 509.9L699.5 509.7L699.9 511.6L700.2 510.0L700.6 517.3L701.0 505.2L701.3 512.4L701.7 510.5L702.1 514.0L702.5 505.5L702.8 514.3L703.2 506.3L703.6 512.6L703.9 512.1L704.3 510.5L704.7 508.2L705.0 507.9L705.4 510.7L705.8 508.0L706.2 504.3L706.5 504.7L706.9 512.7L707.3 512.7L707.6 511.7L708.0 510.2L708.4 511.2L708.7 511.5L709.1 510.7L709.5 507.5L709.9 507.6L710.2 506.3L710.6 510.2L711.0 506.7L711.3 509.2L711.7 513.6L712.1 508.5L712.4 512.5L712.8 514.2L713.2 503.9L713.6 505.1L713.9 510.8L714.3 507.2L714.7 510.9L715.0 511.4L715.4 507.6L715.8 511.7L716.1 514.4L716.5 512.0L716.9 506.4L717.3 508.6L717.6 507.4L718.0 513.7L718.4 508.3L718.7 506.8L719.1 509.0L719.5 510.4L719.8 507.7L720.2 509.1L720.6 508.8L721.0 511.0L721.3 511.7L721.7 509.6L722.1 507.3L722.4 509.9L722.8 506.0L723.2 511.8L723.5 509.7L723.9 509.3L724.3 501.4L724.7 515.6L725.0 512.9L725.4 512.3L725.8 508.9L726.1 510.5L726.5 516.9L726.9 506.4L727.2 510.6L727.6 510.2L728.0 508.8L728.4 509.4L728.7 505.5L729.1 510.3L729.5 504.5L729.8 513.7L730.2 510.7L730.6 505.8L730.9 502.1L731.3 508.6L731.7 509.8L732.1 505.4L732.4 513.2L732.8 509.1L733.2 506.9L733.5 504.2L733.9 507.9L734.3 507.7L734.6 510.1L735.0 511.3L735.4 508.3L735.8 509.6L736.1 512.4L736.5 510.0L736.9 507.5L737.2 510.0L737.6 506.7L738.0 509.6L738.3 508.4L738.7 505.1L739.1 510.0L739.5 508.5L739.8 510.4L740.2 504.5L740.6 511.5L740.9 511.7L741.3 507.4L741.7 508.1L742.0 508.6L742.4 508.4L742.8 510.9L743.2 506.4L743.5 505.2L743.9 507.9L744.3 514.0L744.6 507.5L745.0 505.8L745.4 506.0L745.7 509.2L746.1 512.1L746.5 506.7L746.9 509.3L747.2 509.5L747.6 510.2L748.0 509.4L748.3 512.0L748.7 511.0L749.1 507.3L749.4 516.1L749.8 505.3L750.2 505.5L750.6 512.2L750.9 509.9L751.3 508.7L751.7 510.0L752.0 511.4L752.4 508.4L752.8 507.8L753.1 506.7L753.5 507.3L753.9 507.5L754.3 513.1L754.6 510.7L755.0 511.5L755.4 508.4L755.7 513.0L756.1 505.8L756.5 511.6L756.8 512.3L757.2 508.8L757.6 507.7L758.0 512.1L758.3 508.8L758.7 508.4L759.1 511.0L759.4 508.1L759.8 510.9L760.2 517.1L760.5 510.4L760.9 514.3L761.3 509.0L761.7 512.3L762.0 511.5L762.4 511.9L762.8 514.7L763.1 518.7L763.5 512.5L763.9 516.7L764.2 514.2L764.6 515.4L765.0 512.2L765.4 511.7L765.7 513.3L766.1 511.9L766.5 514.1L766.8 511.4L767.2 514.5L767.6 515.1L767.9 519.8L768.3 519.6L768.7 516.4L769.1 513.8L769.4 516.9L769.8 517.6L770.2 515.0L770.5 513.3L770.9 510.8L771.3 515.7L771.6 521.1L772.0 515.4L772.4 517.1L772.8 517.1L773.1 517.5L773.5 518.3L773.9 510.8L774.2 515.9L774.6 517.4L775.0 516.2L775.3 519.8L775.7 515.5L776.1 519.1L776.5 521.4L776.8 515.9L777.2 516.8L777.6 515.9L777.9 518.8L778.3 511.0L778.7 512.9L779.0 516.1L779.4 519.3L779.8 518.6L780.2 514.8L780.5 521.4L780.9 517.4L781.3 515.4L781.6 518.6L782.0 520.7L782.4 517.0L782.7 513.2L783.1 515.8L783.5 517.6L783.9 519.9L784.2 514.7L784.6 518.1L785.0 514.3L785.3 517.7L785.7 513.9L786.1 516.3L786.4 513.5L786.8 515.0L787.2 513.4L787.6 512.4L787.9 520.9L788.3 520.9L788.7 519.0L789.0 516.8L789.4 521.7L789.8 517.1L790.1 519.0L790.5 521.0L790.9 518.6L791.3 521.9L791.6 517.7L792.0 517.7L792.4 518.5L792.7 515.1L793.1 515.4L793.5 520.3L793.8 513.7L794.2 521.3L794.6 519.1L795.0 521.5L795.3 520.4L795.7 520.1L796.1 523.1L796.4 518.4L796.8 518.3L797.2 521.6L797.5 516.9L797.9 521.7L798.3 520.5L798.7 517.5L799.0 515.5L799.4 513.6L799.8 523.7L800.1 515.0L800.5 515.8L800.9 521.2L801.2 520.2L801.6 519.6L802.0 519.3L802.4 518.0L802.7 516.7L803.1 517.2L803.5 520.7L803.8 522.0L804.2 522.3L804.6 519.2L804.9 513.5L805.3 520.7L805.7 519.0L806.1 512.4L806.4 523.0L806.8 520.1L807.2 519.4L807.5 520.1L807.9 519.9L808.3 520.3L808.6 520.0L809.0 519.8L809.4 521.2L809.8 520.7L810.1 526.1L810.5 520.2L810.9 518.6L811.2 518.4L811.6 521.0L812.0 520.4L812.3 520.7L812.7 519.6L813.1 519.7L813.5 522.2L813.8 523.8L814.2 521.2L814.6 520.1L814.9 517.4L815.3 517.4L815.7 520.6L816.0 519.9L816.4 520.3L816.8 517.7L817.2 520.3L817.5 515.6L817.9 517.6L818.3 518.7L818.6 522.3L819.0 519.3L819.4 518.4L819.7 521.6L820.1 520.7L820.5 523.4L820.9 521.9L821.2 521.7L821.6 520.7L822.0 523.0L822.3 519.4L822.7 517.4L823.1 523.8L823.4 520.3L823.8 521.7L824.2 523.2L824.6 524.3L824.9 514.2L825.3 519.1L825.7 525.0L826.0 517.5L826.4 523.2L826.8 521.1L827.1 519.9L827.5 521.9L827.9 517.9L828.3 523.4L828.6 525.5L829.0 518.8L829.4 520.8L829.7 525.7L830.1 523.7L830.5 522.0L830.8 526.6L831.2 518.6L831.6 522.3L832.0 523.3L832.3 522.3L832.7 525.3L833.1 519.0L833.4 523.5L833.8 521.4L834.2 526.6L834.5 526.3L834.9 521.7L835.3 520.9L835.7 523.6L836.0 521.6L836.4 522.4L836.8 525.1L837.1 522.8L837.5 528.8L837.9 524.3L838.2 522.9L838.6 521.4L839.0 523.0L839.4 527.2L839.7 525.9L840.1 528.2L840.5 527.9L840.8 526.0L841.2 522.9L841.6 524.3L841.9 524.9L842.3 520.6L842.7 525.7L843.1 522.2L843.4 524.7L843.8 523.7L844.2 526.5L844.5 531.9L844.9 522.0L845.3 525.1L845.6 530.5L846.0 522.8L846.4 524.7L846.8 525.0L847.1 526.1L847.5 521.2L847.9 526.2L848.2 526.9L848.6 532.0L849.0 525.2L849.3 524.0L849.7 525.8L850.1 518.8L850.5 526.4L850.8 529.5L851.2 525.4L851.6 525.4L851.9 524.9L852.3 525.9L852.7 522.3L853.0 529.5L853.4 524.3L853.8 524.3L854.2 529.7L854.5 525.5L854.9 524.4L855.3 529.7L855.6 525.9L856.0 527.9L856.4 524.0L856.7 520.9L857.1 525.9L857.5 529.1L857.9 524.2L858.2 526.3L858.6 527.2L859.0 526.1L859.3 525.6L859.7 527.3L860.1 525.9L860.4 524.0L860.8 528.0L861.2 527.3L861.6 526.2L861.9 527.1L862.3 518.5L862.7 525.9L863.0 525.3L863.4 520.1L863.8 530.4L864.1 526.0L864.5 524.0L864.9 524.1L865.3 525.7L865.6 525.0L866.0 520.9L866.4 524.0L866.7 526.1L867.1 526.5L867.5 527.1L867.8 522.2L868.2 523.2L868.6 525.8L869.0 523.3L869.3 525.3L869.7 522.6L870.1 526.2L870.4 524.9L870.8 526.2L871.2 524.8L871.5 522.7L871.9 521.5L872.3 524.7L872.7 523.0L873.0 520.8L873.4 523.1L873.8 526.5L874.1 527.7L874.5 526.4L874.9 527.9L875.2 523.5L875.6 524.0L876.0 522.0L876.4 522.4L876.7 528.5L877.1 525.5L877.5 526.0L877.8 531.0L878.2 529.2L878.6 522.1L878.9 526.8L879.3 522.3L879.7 526.7L880.1 519.4L880.4 521.8L880.8 521.8L881.2 529.3L881.5 519.6L881.9 527.0L882.3 526.9L882.6 524.4L883.0 526.2L883.4 530.7L883.8 524.7L884.1 523.4L884.5 527.5L884.9 526.1L885.2 521.1L885.6 524.5L886.0 524.8L886.3 521.1L886.7 521.6L887.1 522.3L887.5 521.0L887.8 525.3L888.2 524.8L888.6 518.4L888.9 522.9L889.3 524.4L889.7 520.6L890.0 523.3L890.4 524.8L890.8 519.7L891.2 523.2L891.5 518.0L891.9 525.9L892.3 522.1L892.6 520.3L893.0 519.3L893.4 519.8L893.7 527.3L894.1 521.9L894.5 522.6L894.9 523.0L895.2 520.2L895.6 526.0L896.0 517.6L896.3 526.3L896.7 522.1L897.1 524.2L897.4 524.8L897.8 526.2L898.2 520.9L898.6 525.7L898.9 524.0L899.3 523.8L899.7 523.4L900.0 527.0L900.4 525.4L900.8 527.5L901.1 526.6L901.5 519.2L901.9 524.0L902.3 526.9L902.6 522.0L903.0 520.0L903.4 518.5L903.7 529.5L904.1 522.0L904.5 524.8L904.8 521.7L905.2 525.5L905.6 528.7L906.0 520.8L906.3 524.4L906.7 522.6L907.1 519.8L907.4 522.3L907.8 524.7L908.2 527.8L908.5 527.9L908.9 524.7L909.3 520.5L909.7 526.4L910.0 524.8L910.4 524.8L910.8 521.9L911.1 524.4L911.5 529.9L911.9 528.7L912.2 528.2L912.6 526.7L913.0 524.0L913.4 525.0L913.7 525.4L914.1 526.1L914.5 524.2L914.8 522.9L915.2 528.0L915.6 524.2L915.9 527.3L916.3 524.8L916.7 527.0L917.1 526.6L917.4 527.2L917.8 527.1L918.2 522.9L918.5 521.9L918.9 525.3L919.3 529.6L919.6 523.3L920.0 523.1L920.4 531.3L920.8 521.5L921.1 524.0L921.5 524.5L921.9 523.8L922.2 523.9L922.6 528.3L923.0 526.1L923.3 526.1L923.7 521.4L924.1 527.7L924.5 526.1L924.8 526.1L925.2 527.8L925.6 526.5L925.9 525.7L926.3 526.8L926.7 524.0L927.0 523.5L927.4 522.4L927.8 528.3L928.2 524.2L928.5 526.4L928.9 528.8L929.3 530.6L929.6 525.1L930.0 526.4L930.4 526.3L930.7 522.7L931.1 524.9L931.5 533.2L931.9 526.0L932.2 530.7L932.6 528.1L933.0 530.7L933.3 529.6L933.7 526.8L934.1 523.1L934.4 529.9L934.8 528.1L935.2 527.6L935.6 528.6L935.9 524.4L936.3 526.8L936.7 526.4L937.0 522.7L937.4 523.5L937.8 526.2L938.1 520.9L938.5 528.4L938.9 528.5L939.3 526.4L939.6 527.3L940.0 522.0L940.4 527.1L940.7 528.6L941.1 528.0L941.5 529.1L941.8 526.6L942.2 531.8L942.6 527.9L943.0 528.8L943.3 529.6L943.7 524.9L944.1 524.0L944.4 528.9L944.8 523.8L945.2 525.4L945.5 529.5L945.9 524.2L946.3 524.5L946.7 523.9L947.0 524.4L947.4 531.8L947.8 528.5L948.1 529.5L948.5 522.2L948.9 521.0L949.2 524.2L949.6 529.8L950.0 530.1L950.4 522.2L950.7 522.8L951.1 528.9L951.5 527.9L951.8 528.3L952.2 528.9L952.6 524.7L952.9 527.6L953.3 526.6L953.7 530.4L954.1 526.5L954.4 522.5L954.8 530.5L955.2 531.9L955.5 529.8L955.9 526.5L956.3 524.9L956.6 529.9L957.0 526.0L957.4 528.6L957.8 529.3L958.1 527.0L958.5 522.3L958.9 528.6L959.2 524.8L959.6 523.4L960.0 527.2L960.3 527.7L960.7 527.1L961.1 528.9L961.5 522.5L961.8 528.8L962.2 531.4L962.6 527.1L962.9 526.0L963.3 526.8L963.7 530.4L964.0 526.8L964.4 525.3L964.8 523.0L965.2 530.8L965.5 530.8L965.9 527.3L966.3 532.5L966.6 526.2L967.0 529.0L967.4 523.9L967.7 524.7L968.1 527.2L968.5 528.4L968.9 528.7L969.2 524.9L969.6 525.8L970.0 526.9L970.3 526.4L970.7 526.5L971.1 529.2L971.4 530.0L971.8 522.4L972.2 530.4L972.6 527.5L972.9 527.9L973.3 527.9L973.7 529.4L974.0 528.8L974.4 523.2L974.8 529.2L975.1 524.2L975.5 527.9L975.9 527.5L976.3 523.1L976.6 527.0L977.0 526.3L977.4 525.2L977.7 532.0L978.1 527.3L978.5 525.9L978.8 531.2L979.2 526.8L979.6 526.5L980.0 521.8L980.3 528.3L980.7 529.3L981.1 531.6L981.4 524.2L981.8 529.4L982.2 530.3L982.5 528.5L982.9 526.7L983.3 522.6L983.7 527.2L984.0 525.3L984.4 522.3L984.8 528.2L985.1 526.3L985.5 526.1L985.9 531.6L986.2 525.3L986.6 521.4L987.0 521.0L987.4 527.9L987.7 526.0L988.1 524.7L988.5 521.2L988.8 524.5L989.2 523.7L989.6 526.2L989.9 524.4L990.3 524.3L990.7 526.4L991.1 524.5L991.4 527.3L991.8 518.6L992.2 523.4L992.5 529.5L992.9 526.9L993.3 523.7L993.6 526.0L994.0 525.0L994.4 525.5L994.8 530.0L995.1 525.4L995.5 526.9L995.9 524.3L996.2 524.6L996.6 522.6L997.0 524.8L997.3 525.4L997.7 525.7L998.1 526.6L998.5 526.7L998.8 528.1L999.2 525.9L999.6 529.7L999.9 528.0L1000.3 529.9L1000.7 526.4L1001.0 529.6L1001.4 526.8L1001.8 522.4L1002.2 526.5L1002.5 526.1L1002.9 523.0L1003.3 524.2L1003.6 525.1L1004.0 532.3L1004.4 527.4L1004.7 531.2L1005.1 529.0L1005.5 529.4L1005.9 528.8L1006.2 523.1L1006.6 529.9L1007.0 524.3L1007.3 527.9L1007.7 526.6L1008.1 530.9L1008.4 529.9L1008.8 531.4L1009.2 528.1L1009.6 527.0L1009.9 528.9L1010.3 532.9L1010.7 528.3L1011.0 527.2L1011.4 524.0L1011.8 525.2L1012.1 526.9L1012.5 528.8L1012.9 528.7L1013.3 526.9L1013.6 527.5L1014.0 531.0L1014.4 531.8L1014.7 530.2L1015.1 531.0L1015.5 530.4L1015.8 531.8L1016.2 524.2L1016.6 526.1L1017.0 528.0L1017.3 528.4L1017.7 530.7L1018.1 522.9L1018.4 527.8L1018.8 528.1L1019.2 525.8L1019.5 527.2L1019.9 530.0L1020.3 528.7L1020.7 527.3L1021.0 528.1L1021.4 527.3L1021.8 529.9L1022.1 527.4L1022.5 530.1L1022.9 526.3L1023.2 527.6L1023.6 525.0L1024.0 527.2L1024.4 529.8L1024.7 525.3L1025.1 526.9L1025.5 528.0L1025.8 526.9L1026.2 529.8L1026.6 524.7L1026.9 529.9L1027.3 531.1L1027.7 531.9L1028.1 527.7L1028.4 525.9L1028.8 524.0L1029.2 529.5L1029.5 529.9L1029.9 528.6L1030.3 528.7L1030.6 529.5L1031.0 527.0L1031.4 524.2L1031.8 524.3L1032.1 525.9L1032.5 525.6L1032.9 524.0L1033.2 526.8L1033.6 525.3L1034.0 529.5L1034.3 527.7L1034.7 529.8L1035.1 524.6L1035.5 525.1L1035.8 523.9L1036.2 528.5L1036.6 535.5L1036.9 528.4L1037.3 526.8L1037.7 528.4L1038.0 527.8L1038.4 530.2L1038.8 527.8L1039.2 525.7L1039.5 523.2L1039.9 528.7L1040.3 530.3L1040.6 528.2L1041.0 525.6L1041.4 526.8L1041.7 527.0L1042.1 529.2L1042.5 527.7L1042.9 530.7L1043.2 527.3L1043.6 526.2L1044.0 532.3L1044.3 525.3L1044.7 525.9L1045.1 532.9L1045.4 528.5L1045.8 532.1L1046.2 521.7L1046.6 530.8L1046.9 527.8L1047.3 528.0L1047.7 529.0L1048.0 521.0L1048.4 525.6L1048.8 528.8L1049.1 535.5L1049.5 525.9L1049.9 533.5L1050.3 529.3L1050.6 530.3L1051.0 525.4L1051.4 529.2L1051.7 525.6L1052.1 524.8L1052.5 530.8L1052.8 526.0L1053.2 526.5L1053.6 529.4L1054.0 525.7L1054.3 524.6L1054.7 528.3L1055.1 528.4L1055.4 531.4L1055.8 524.9L1056.2 529.4L1056.5 529.4L1056.9 526.6L1057.3 527.3L1057.7 527.7L1058.0 525.1L1058.4 524.4L1058.8 529.4L1059.1 525.1L1059.5 525.3L1059.9 529.6L1060.2 526.3L1060.6 526.7L1061.0 524.2L1061.4 524.6L1061.7 524.2L1062.1 524.3L1062.5 530.7L1062.8 525.2L1063.2 521.9L1063.6 524.9L1063.9 529.3L1064.3 524.7L1064.7 527.4L1065.1 525.2L1065.4 523.2L1065.8 526.2L1066.2 525.0L1066.5 527.9L1066.9 529.2L1067.3 527.3L1067.6 534.0L1068.0 524.9L1068.4 530.8L1068.8 528.6L1069.1 531.0L1069.5 528.9L1069.9 522.1L1070.2 526.9L1070.6 530.1L1071.0 527.7L1071.3 524.4L1071.7 526.3L1072.1 528.5L1072.5 530.7L1072.8 526.3L1073.2 528.0L1073.6 525.5L1073.9 524.9L1074.3 526.6L1074.7 531.1L1075.0 529.6L1075.4 527.2L1075.8 527.9L1076.2 529.3L1076.5 527.7L1076.9 527.0L1077.3 527.3L1077.6 529.7L1078.0 527.2L1078.4 530.1L1078.7 523.7L1079.1 526.4L1079.5 527.2L1079.9 529.7L1080.2 526.1L1080.6 527.1L1081.0 529.2L1081.3 528.2L1081.7 526.9L1082.1 527.7L1082.4 526.3L1082.8 530.6L1083.2 529.7L1083.6 530.8L1083.9 534.2L1084.3 531.8L1084.7 530.1L1085.0 528.7L1085.4 534.5L1085.8 529.7L1086.1 528.6L1086.5 532.3L1086.9 530.3L1087.3 528.7L1087.6 530.5L1088.0 534.2L1088.4 529.9L1088.7 530.5L1089.1 527.5L1089.5 528.6L1089.8 531.9L1090.2 529.6L1090.6 530.2L1091.0 532.6L1091.3 529.2L1091.7 533.8L1092.1 528.5L1092.4 528.3L1092.8 528.2L1093.2 526.5L1093.5 531.5L1093.9 530.2L1094.3 533.5L1094.7 528.5L1095.0 532.1L1095.4 533.5L1095.8 529.8L1096.1 529.9L1096.5 524.3L1096.9 535.0L1097.2 530.0L1097.6 532.0L1098.0 529.1L1098.4 531.2L1098.7 527.6L1099.1 532.2L1099.5 530.6L1099.8 529.5L1100.2 531.5L1100.6 526.1L1100.9 530.8L1101.3 529.4L1101.7 533.9L1102.1 532.3L1102.4 530.0L1102.8 529.7L1103.2 537.6L1103.5 528.0L1103.9 535.0L1104.3 532.6L1104.6 532.3L1105.0 525.8L1105.4 532.4L1105.8 529.2L1106.1 528.2L1106.5 531.8L1106.9 528.6L1107.2 531.7L1107.6 528.1L1108.0 531.8L1108.3 531.4L1108.7 528.3L1109.1 528.0L1109.5 528.7L1109.8 529.0L1110.2 528.9L1110.6 534.7L1110.9 531.3L1111.3 529.5L1111.7 529.5L1112.0 528.3L1112.4 530.9L1112.8 530.1L1113.2 528.6L1113.5 528.6L1113.9 529.3L1114.3 527.7L1114.6 530.5L1115.0 528.1L1115.4 531.6L1115.7 529.5L1116.1 531.5L1116.5 528.9L1116.9 525.8L1117.2 527.1L1117.6 529.6L1118.0 531.2L1118.3 531.3L1118.7 531.5L1119.1 531.9L1119.4 531.2L1119.8 531.4L1120.2 529.8L1120.6 531.7L1120.9 530.1L1121.3 530.1L1121.7 530.8L1122.0 535.8L1122.4 526.8L1122.8 529.2L1123.1 529.7L1123.5 531.4L1123.9 530.4L1124.3 534.3L1124.6 526.6L1125.0 534.7L1125.4 527.3L1125.7 528.6L1126.1 531.7L1126.5 530.6L1126.8 530.3L1127.2 530.5L1127.6 531.3L1128.0 532.7L1128.3 531.4L1128.7 527.4L1129.1 528.6L1129.4 533.7L1129.8 535.0L1130.2 532.6L1130.5 532.9L1130.9 531.1L1131.3 535.3L1131.7 529.0L1132.0 529.6L1132.4 528.5L1132.8 534.1L1133.1 529.1L1133.5 531.6L1133.9 527.1L1134.2 526.8L1134.6 532.7L1135.0 532.1L1135.4 532.4L1135.7 530.9L1136.1 529.7L1136.5 529.4L1136.8 527.7L1137.2 529.5L1137.6 533.6L1137.9 530.0L1138.3 527.2L1138.7 529.8L1139.1 528.0L1139.4 527.7L1139.8 530.1L1140.2 528.6L1140.5 527.4L1140.9 534.1L1141.3 534.6L1141.6 530.8L1142.0 534.0L1142.4 529.4L1142.8 530.4L1143.1 533.6L1143.5 531.2L1143.9 532.5L1144.2 523.9L1144.6 531.2L1145.0 529.5L1145.3 530.3L1145.7 527.0L1146.1 528.8L1146.5 532.1L1146.8 532.1L1147.2 532.5L1147.6 532.7L1147.9 533.4L1148.3 531.7L1148.7 530.2L1149.0 529.4L1149.4 529.8L1149.8 528.5L1150.2 528.5L1150.5 530.7L1150.9 525.5L1151.3 528.0L1151.6 529.1L1152.0 532.3L1152.4 533.6L1152.7 531.9L1153.1 531.0L1153.5 530.0L1153.9 533.9L1154.2 532.9L1154.6 529.7L1155.0 531.2L1155.3 532.3L1155.7 533.6L1156.1 530.6L1156.4 535.1L1156.8 534.3L1157.2 530.5L1157.6 531.1L1157.9 529.4L1158.3 529.5L1158.7 532.5L1159.0 535.2L1159.4 535.3L1159.8 532.3L1160.1 531.0L1160.5 530.4L1160.9 533.0L1161.3 530.9L1161.6 533.8L1162.0 531.8L1162.4 532.9L1162.7 531.0L1163.1 537.1L1163.5 535.0L1163.8 532.5L1164.2 530.3L1164.6 533.8L1165.0 534.3L1165.3 529.8L1165.7 532.7L1166.1 537.4L1166.4 533.0L1166.8 531.7L1167.2 534.1L1167.5 537.1L1167.9 531.7L1168.3 531.8L1168.7 532.3L1169.0 533.1L1169.4 535.8L1169.8 533.7L1170.1 527.7L1170.5 534.1L1170.9 534.0L1171.2 534.6L1171.6 533.8L1172.0 532.9L1172.4 534.4L1172.7 531.6L1173.1 529.2L1173.5 532.5L1173.8 530.6L1174.2 537.3L1174.6 533.0L1174.9 537.1L1175.3 530.1L1175.7 530.5L1176.1 534.4L1176.4 529.3L1176.8 531.9L1177.2 528.8L1177.5 534.5L1177.9 529.4L1178.3 533.2L1178.6 529.3L1179.0 534.7L1179.4 536.1L1179.8 533.9L1180.1 531.2L1180.5 534.6L1180.9 536.0L1181.2 535.5L1181.6 536.7L1182.0 538.3L1182.3 534.3L1182.7 533.2L1183.1 532.3L1183.5 533.8L1183.8 533.3L1184.2 532.6L1184.6 534.7L1184.9 538.7L1185.3 532.0L1185.7 532.8L1186.0 533.1L1186.4 531.6L1186.8 536.6L1187.2 533.7L1187.5 535.5L1187.9 530.2L1188.3 535.5L1188.6 533.8L1189.0 530.7L1189.4 536.3L1189.7 536.5L1190.1 534.8L1190.5 535.4L1190.9 532.0L1191.2 536.8L1191.6 533.8L1192.0 535.5L1192.3 535.8L1192.7 535.6L1193.1 532.7L1193.4 535.1L1193.8 534.9L1194.2 537.4L1194.6 532.8L1194.9 536.9L1195.3 535.8L1195.7 534.8L1196.0 539.2L1196.4 536.7L1196.8 533.4L1197.1 535.5L1197.5 533.0L1197.9 532.0L1198.3 533.6L1198.6 533.7L1199.0 539.0L1199.4 536.8L1199.7 529.1L1200.1 534.6L1200.5 533.3L1200.8 534.7L1201.2 535.5L1201.6 535.2L1202.0 536.1L1202.3 533.3L1202.7 538.5L1203.1 534.9L1203.4 538.2L1203.8 535.0L1204.2 536.4L1204.5 533.0L1204.9 538.0L1205.3 536.0L1205.7 534.4L1206.0 536.3L1206.4 536.5L1206.8 531.7L1207.1 533.7L1207.5 533.1L1207.9 537.5L1208.2 536.0L1208.6 534.0L1209.0 533.9L1209.4 535.5L1209.7 530.1L1210.1 535.3L1210.5 539.5L1210.8 532.4L1211.2 532.9L1211.6 533.1L1211.9 536.9L1212.3 534.0L1212.7 540.4L1213.1 535.4L1213.4 534.7L1213.8 533.3L1214.2 537.6L1214.5 538.6L1214.9 536.5L1215.3 539.2L1215.6 539.1L1216.0 537.0L1216.4 536.3L1216.8 534.9L1217.1 536.8L1217.5 535.4L1217.9 539.9L1218.2 538.2L1218.6 536.0L1219.0 535.5L1219.3 537.4L1219.7 539.0L1220.1 537.2L1220.5 539.0L1220.8 535.5L1221.2 537.2L1221.6 538.2L1221.9 537.2L1222.3 537.6L1222.7 539.2L1223.0 536.8L1223.4 539.2L1223.8 535.6L1224.2 538.1L1224.5 535.9L1224.9 536.1L1225.3 538.5L1225.6 540.1L1226.0 536.8L1226.4 537.4L1226.7 540.4L1227.1 535.3L1227.5 539.4L1227.9 534.5L1228.2 532.8L1228.6 538.2L1229.0 536.7L1229.3 536.2L1229.7 531.7L1230.1 538.3L1230.4 536.4L1230.8 534.7L1231.2 537.3L1231.6 534.7L1231.9 535.7L1232.3 535.7L1232.7 540.0L1233.0 537.4L1233.4 540.8L1233.8 535.7L1234.1 534.9L1234.5 542.0L1234.9 534.5L1235.3 540.7L1235.6 535.2L1236.0 539.6L1236.4 536.1L1236.7 541.5L1237.1 542.7L1237.5 540.5L1237.8 538.8L1238.2 537.1L1238.6 539.9L1239.0 543.1L1239.3 537.0L1239.7 535.4L1240.1 542.5L1240.4 537.7L1240.8 540.0L1241.2 538.7L1241.5 538.9L1241.9 537.7L1242.3 538.0L1242.7 534.4L1243.0 537.0L1243.4 536.3L1243.8 541.2L1244.1 537.7L1244.5 538.7L1244.9 534.5L1245.2 538.7L1245.6 542.2L1246.0 539.0L1246.4 540.7L1246.7 537.9L1247.1 537.2L1247.5 541.0L1247.8 537.6L1248.2 536.2L1248.6 538.5L1248.9 537.8L1249.3 541.3L1249.7 540.5L1250.1 535.4L1250.4 540.1L1250.8 535.6L1251.2 539.3L1251.5 540.3L1251.9 537.7L1252.3 537.7L1252.6 540.8L1253.0 538.2L1253.4 536.3L1253.8 542.9L1254.1 541.1L1254.5 540.2L1254.9 539.9L1255.2 541.5L1255.6 539.3L1256.0 541.0L1256.3 540.0L1256.7 537.6L1257.1 541.8L1257.5 539.7L1257.8 537.3L1258.2 538.2L1258.6 533.6L1258.9 535.3L1259.3 535.8L1259.7 541.0L1260.0 540.9L1260.4 542.1L1260.8 540.4L1261.2 543.5L1261.5 538.3L1261.9 537.6L1262.3 537.2L1262.6 539.9L1263.0 537.8L1263.4 537.2L1263.7 538.1L1264.1 539.8L1264.5 536.3L1264.9 539.4L1265.2 539.4L1265.6 543.5L1266.0 539.8L1266.3 536.4L1266.7 540.1L1267.1 540.0L1267.4 536.5L1267.8 532.2L1268.2 541.4L1268.6 539.1L1268.9 537.8L1269.3 539.2L1269.7 542.7L1270.0 543.8L1270.4 538.5L1270.8 543.3L1271.1 539.6L1271.5 539.7L1271.9 539.5L1272.3 539.6L1272.6 539.4L1273.0 538.1L1273.4 539.8L1273.7 537.4L1274.1 541.2L1274.5 538.3L1274.8 541.0L1275.2 539.6L1275.6 535.6L1276.0 542.7L1276.3 540.6L1276.7 539.8L1277.1 539.1L1277.4 544.3L1277.8 539.4L1278.2 542.3L1278.5 540.5L1278.9 536.8L1279.3 541.8L1279.7 536.4L1280.0 541.2L1280.4 541.1L1280.8 540.7L1281.1 538.3L1281.5 543.5L1281.9 544.4L1282.2 538.0L1282.6 539.3L1283.0 544.1L1283.4 539.2L1283.7 542.6L1284.1 537.9L1284.5 538.8L1284.8 541.0L1285.2 541.4L1285.6 536.9L1285.9 537.9L1286.3 541.7L1286.7 543.5L1287.1 541.7L1287.4 541.4L1287.8 541.6L1288.2 537.6L1288.5 541.5L1288.9 542.7L1289.3 542.0L1289.6 537.8L1290.0 538.3L1290.4 543.4L1290.8 537.4L1291.1 538.1L1291.5 544.5L1291.9 538.6L1292.2 539.0L1292.6 542.3L1293.0 542.7L1293.3 540.4L1293.7 537.4L1294.1 539.6L1294.5 541.3L1294.8 538.7L1295.2 538.6L1295.6 544.0L1295.9 542.3L1296.3 542.9L1296.7 543.2L1297.0 538.7L1297.4 542.2L1297.8 544.0L1298.2 542.8L1298.5 538.4L1298.9 537.4L1299.3 539.3L1299.6 542.5L1300.0 540.8L1300.4 541.9L1300.7 538.3L1301.1 543.3L1301.5 539.6L1301.9 544.1L1302.2 541.3L1302.6 534.2L1303.0 540.9L1303.3 539.3L1303.7 539.4L1304.1 541.1L1304.4 544.1L1304.8 543.6L1305.2 544.9L1305.6 541.6L1305.9 537.1L1306.3 540.3L1306.7 539.5L1307.0 540.0L1307.4 548.1L1307.8 543.6L1308.1 539.4L1308.5 544.6L1308.9 541.1L1309.3 538.6L1309.6 544.6L1310.0 540.7L1310.4 542.2L1310.7 547.4L1311.1 539.5L1311.5 544.4L1311.8 541.2L1312.2 539.3L1312.6 541.4L1313.0 542.4L1313.3 542.5L1313.7 538.3L1314.1 544.1L1314.4 540.0L1314.8 542.8L1315.2 542.6L1315.5 540.8L1315.9 543.6L1316.3 540.4L1316.7 539.9L1317.0 538.8L1317.4 537.7L1317.8 540.6L1318.1 537.0L1318.5 541.4L1318.9 541.0L1319.2 546.2L1319.6 539.5L1320.0 545.1L1320.4 543.2L1320.7 543.1L1321.1 540.9L1321.5 540.4L1321.8 541.6L1322.2 542.3L1322.6 543.8L1322.9 541.2L1323.3 546.2L1323.7 546.5L1324.1 536.6L1324.4 542.8L1324.8 542.3L1325.2 540.2L1325.5 536.1L1325.9 538.4L1326.3 542.2L1326.6 544.3L1327.0 543.7L1327.4 543.9L1327.8 542.1L1328.1 545.1L1328.5 543.9L1328.9 545.4L1329.2 542.4L1329.6 541.2L1330.0 539.1L1330.3 546.5L1330.7 541.4L1331.1 540.3L1331.5 537.7L1331.8 544.2L1332.2 539.6L1332.6 543.1L1332.9 543.6L1333.3 546.4L1333.7 541.2L1334.0 538.3L1334.4 545.1L1334.8 543.6L1335.2 541.5L1335.5 542.9L1335.9 547.6L1336.3 543.2L1336.6 541.5L1337.0 542.9L1337.4 544.5L1337.7 544.0L1338.1 544.0L1338.5 543.9L1338.9 540.4L1339.2 544.6L1339.6 545.7L1340.0 544.8L1340.3 543.1L1340.7 543.1L1341.1 543.7L1341.4 543.4L1341.8 539.3L1342.2 543.0L1342.6 546.4L1342.9 542.6L1343.3 542.1L1343.7 544.9L1344.0 543.6L1344.4 541.8L1344.8 543.9L1345.1 547.6L1345.5 547.9L1345.9 543.9L1346.3 543.1L1346.6 546.4L1347.0 544.7L1347.4 544.9L1347.7 543.4L1348.1 540.5L1348.5 540.1L1348.8 543.4L1349.2 541.0L1349.6 545.6L1350.0 545.9L1350.3 547.3L1350.7 544.0L1351.1 548.4L1351.4 546.8L1351.8 544.7L1352.2 545.6L1352.5 542.5L1352.9 536.2L1353.3 546.4L1353.7 545.1L1354.0 547.9L1354.4 545.1L1354.8 543.5L1355.1 542.7L1355.5 542.5L1355.9 544.4L1356.2 539.6L1356.6 541.3L1357.0 546.0L1357.4 539.1L1357.7 540.2L1358.1 542.6L1358.5 543.0L1358.8 544.2L1359.2 546.1L1359.6 544.7L1359.9 545.5L1360.3 542.6L1360.7 544.1L1361.1 542.4L1361.4 543.8L1361.8 545.5L1362.2 545.3L1362.5 539.6L1362.9 541.4L1363.3 548.9L1363.6 539.2L1364.0 544.3L1364.4 541.4L1364.8 543.7L1365.1 542.8L1365.5 544.4L1365.9 541.6L1366.2 546.7L1366.6 549.5L1367.0 538.4L1367.3 542.2L1367.7 540.6L1368.1 544.6L1368.5 547.7L1368.8 547.7L1369.2 547.5L1369.6 544.9L1369.9 543.0L1370.3 547.1L1370.7 542.9L1371.0 542.5L1371.4 544.5L1371.8 541.4L1372.2 543.9L1372.5 542.2L1372.9 544.7L1373.3 546.8L1373.6 543.1L1374.0 545.6L1374.4 546.8L1374.7 542.6L1375.1 544.3L1375.5 543.6L1375.9 548.9L1376.2 543.3L1376.6 544.8L1377.0 541.2L1377.3 542.3L1377.7 546.0L1378.1 543.9L1378.4 546.4L1378.8 544.7L1379.2 550.9L1379.6 544.0L1379.9 546.9L1380.3 542.9L1380.7 543.6L1381.0 541.0L1381.4 551.0L1381.8 539.6L1382.1 545.0L1382.5 543.6L1382.9 546.6L1383.3 543.4L1383.6 549.3L1384.0 547.5L1384.4 546.0L1384.7 546.0L1385.1 547.3L1385.5 545.9L1385.8 548.7L1386.2 547.0L1386.6 544.8L1387.0 546.0L1387.3 545.4L1387.7 547.8L1388.1 544.3L1388.4 545.2L1388.8 541.9L1389.2 546.6L1389.5 545.6L1389.9 543.4L1390.3 549.2L1390.7 545.1L1391.0 542.3L1391.4 547.8L1391.8 544.6L1392.1 537.6L1392.5 545.9L1392.9 545.0L1393.2 545.3L1393.6 544.6L1394.0 543.1L1394.4 545.4L1394.7 541.0L1395.1 544.7L1395.5 547.2L1395.8 547.5L1396.2 543.9L1396.6 549.8L1396.9 545.9L1397.3 544.1L1397.7 545.5L1398.1 543.5L1398.4 547.2L1398.8 542.9L1399.2 543.5L1399.5 542.4L1399.9 543.2L1400.3 544.5L1400.6 549.7L1401.0 545.8L1401.4 548.0L1401.8 545.3L1402.1 547.5L1402.5 542.7L1402.9 542.5L1403.2 549.7L1403.6 546.1L1404.0 541.4L1404.3 546.7L1404.7 544.7L1405.1 544.6L1405.5 547.2" fill="none" stroke="#f00" stroke-width="3" stroke-linejoin="round" shape-rendering="crispEdges"/>
<path d="M116.8 316.3L118.6 311.8L120.8 322.1L123.1 314.5L125.3 320.8L127.5 311.8L130.2 308.1L132.9 318.1L135.6 308.1L138.3 318.8L142.3 308.1L145.4 320.8L147.2 317.2L150.8 322.6L154.4 308.1L157.1 313.6L159.3 310.1L162.4 316.3L165.1 316.3L169.6 324.8L171.4 315.9L175.8 315.4L179.0 312.7L181.2 322.6L183.9 316.3L186.6 314.5L188.4 320.8L191.5 306.0L193.7 325.7L198.2 319.0L202.7 310.1L205.4 320.8L207.6 309.2L209.8 324.4L213.4 315.9L215.7 321.7L218.8 315.4L222.4 314.5L224.2 318.1L226.8 308.3L229.5 317.2L231.8 306.5L234.0 319.0L236.7 306.5L239.4 318.1L242.7 303.4L244.9 308.7L246.7 303.4L248.9 310.5L251.2 303.4L253.4 307.8L255.7 301.6L257.9 306.9L260.6 308.7L263.3 300.7L265.9 305.2L268.6 294.9L270.9 298.0L272.7 290.8L275.8 310.5L279.4 295.8L282.1 295.3L284.3 301.1L286.5 289.1L288.3 277.0L291.0 283.7L294.1 281.0L295.9 271.2L298.6 294.0L300.8 268.5L302.6 263.1L306.2 278.3L308.9 270.3L312.5 271.2L316.0 278.8L318.3 266.7L320.5 262.2L322.3 266.7L325.9 247.0L330.4 268.5L333.9 248.8L336.6 254.2L339.3 259.5L341.1 246.1L343.8 258.6L346.5 252.4L349.6 241.2L353.2 248.8L355.4 243.4L358.1 242.5L360.3 224.6L361.7 242.5L364.9 235.7L367.2 238.8L368.9 236.2L370.7 242.9L372.5 230.8L374.3 223.6L377.0 229.0L379.7 250.5L382.4 235.3L385.1 224.1L387.7 230.8L389.1 217.4L390.9 208.9L393.1 230.8L395.8 220.9L398.5 229.9L400.7 215.1L403.8 238.8L407.0 229.0L410.1 248.2L413.2 234.8L416.4 251.8L419.1 242.9L421.7 254.1L423.5 250.0L426.2 265.7L428.4 250.0L431.6 252.7L435.2 263.9L437.4 256.3L441.0 273.7L443.2 267.0L446.8 279.1L448.1 290.7L450.8 271.9L453.0 288.0L456.2 278.2L458.4 288.9L461.3 276.9L463.5 293.5L467.5 298.8L469.8 289.9L472.9 293.0L476.5 303.3L479.2 299.7L482.7 314.5L485.9 295.3L489.4 306.4L492.6 316.7L496.2 311.8L497.9 318.5L502.4 325.7L505.1 314.9L507.8 319.0L511.8 309.1L515.8 323.0L518.5 319.0L522.5 325.7L526.6 318.5L530.2 312.7L534.2 328.4L537.8 319.0L540.9 321.7L543.6 318.1L545.4 325.7L548.5 313.2L553.0 327.5L557.0 318.1L560.1 322.5L564.2 310.0L567.3 327.5L570.4 312.7L574.0 312.7L575.8 320.8L578.5 312.3L581.2 322.1L584.5 324.9L587.2 320.5L590.7 318.2L593.4 311.5L597.0 313.3L599.2 320.9L601.5 317.8L603.3 321.4L605.9 309.7L608.6 316.9L611.3 318.2L614.4 301.7L616.7 321.4L619.4 308.8L622.9 322.7L625.6 307.5L628.3 319.6L630.1 316.0L631.9 323.2L635.0 309.7L637.3 317.8L639.1 312.4L641.7 319.1L644.0 309.7L646.7 319.1L649.3 317.8L651.6 304.4L653.8 309.7L656.0 308.8L657.8 313.8L660.5 312.4L661.4 318.2L663.2 317.8L665.0 295.9L667.7 314.2L670.4 304.4L672.6 317.3L675.3 299.4L678.0 317.8L682.0 312.4L685.6 299.0L687.8 307.1L690.5 295.0L692.3 308.8L694.5 302.6L696.3 307.9L698.5 295.4L701.2 298.6L703.5 295.4L706.2 287.8L709.9 310.2L712.6 290.5L715.3 300.8L717.5 290.9L721.1 306.6L724.2 290.5L727.8 306.6L731.4 277.1L736.3 301.7L742.1 280.2L744.8 297.2L747.1 295.4L749.7 298.6L752.4 287.8L755.1 294.5L757.8 290.1L759.1 297.2L763.2 292.3L766.3 311.5L769.0 295.9L771.7 306.6L773.9 295.0L777.5 304.8L779.3 298.6L782.8 298.1L784.6 314.2L788.7 295.0L792.2 316.4L794.9 299.9L797.6 310.6L799.8 299.9L802.5 310.6L805.7 310.2L808.3 316.4L811.0 304.8L813.7 310.6L816.4 318.7L820.0 304.8L824.0 316.9L826.7 312.9L828.9 318.7L831.2 308.8L834.0 317.6L836.7 309.5L839.4 302.8L841.6 318.5L844.3 305.1L847.4 320.7L850.6 302.4L852.8 312.2L855.1 310.0L858.6 315.3L861.3 308.2L864.0 318.5L867.6 317.6L870.3 311.8L873.4 320.7L876.5 313.1L879.7 317.6L881.9 313.1L884.6 321.6L887.3 314.4L890.8 313.1L893.1 320.7L896.2 313.1L898.9 318.9L902.0 316.2L905.2 308.2L907.4 320.7L910.1 312.2L912.3 322.1L915.0 308.2L918.1 317.1L922.2 312.2L924.8 317.6L927.5 321.6L931.1 312.2L933.8 322.5L936.9 313.1L940.9 305.9L943.6 325.2L946.3 321.6L949.0 322.1L951.2 305.9L953.9 327.4L957.2 312.7L961.7 320.8L964.8 302.9L968.0 327.9L970.7 318.1L973.3 324.8L976.5 312.7L978.7 322.1L981.4 311.8L986.3 320.8L990.8 307.8L993.5 319.0L996.6 311.8L999.3 310.1L1003.8 321.7L1007.3 309.2L1009.6 318.1L1013.2 315.4L1014.9 320.8L1018.1 311.8L1020.3 321.7L1023.0 315.9L1026.1 315.4L1027.9 321.7L1030.6 313.2L1033.3 321.7L1036.0 315.9L1040.0 321.7L1042.7 314.5L1046.3 310.1L1049.4 327.5L1053.4 308.3L1056.1 321.7L1059.2 315.0L1061.5 321.7L1064.2 315.4L1068.6 327.5L1071.3 315.9L1074.9 324.8L1078.5 322.6L1081.2 318.1L1085.4 319.4L1088.9 319.4L1092.5 325.7L1096.1 315.9L1101.9 315.9L1104.2 320.8L1106.8 318.6L1108.6 325.3L1110.9 318.1L1113.6 324.8L1117.6 312.3L1120.7 328.8L1124.3 315.9L1128.3 316.3L1130.6 315.4L1132.8 322.6L1135.9 319.4L1139.1 319.9L1141.3 320.8L1144.0 302.9L1147.1 328.8L1150.7 310.1L1152.5 322.1L1156.0 315.0L1158.7 319.0L1162.3 316.3L1166.3 327.9L1169.5 319.4L1173.0 322.6L1177.1 315.0L1179.8 319.0L1182.4 322.6L1186.0 312.3L1190.0 322.6L1194.5 322.6L1198.1 319.4L1200.8 318.1L1203.5 321.2L1207.0 321.2L1207.9 313.2L1208.1 312.8L1210.8 315.9L1213.9 327.6L1218.0 320.0L1222.0 327.6L1226.5 320.4L1229.2 325.8L1232.3 320.4L1235.0 325.8L1239.9 318.2L1243.5 328.5L1247.1 322.7L1250.6 325.8L1253.3 324.0L1258.7 327.6L1263.6 320.4L1268.5 323.1L1272.5 328.5L1275.2 319.1L1280.2 327.6L1284.6 321.8L1287.3 325.8L1290.0 319.1L1290.4 318.6L1293.1 329.4L1298.5 319.1L1302.1 328.5L1305.2 319.1L1309.2 325.8L1315.1 320.9L1321.8 325.3L1325.8 320.0L1330.3 327.6L1333.4 315.9L1337.0 324.9L1341.4 311.9L1346.4 320.9L1351.7 320.4L1353.1 313.3L1358.0 324.9L1362.9 315.1L1366.0 324.9L1369.6 315.9L1371.9 323.1L1375.0 317.7L1378.1 323.6L1381.3 315.1L1386.2 328.0L1390.2 321.8L1394.7 328.0L1396.9 321.8L1401.8 328.5L1405.0 326.2" fill="none" stroke="#00f" stroke-width="3.6" stroke-linejoin="round" shape-rendering="crispEdges"/>
<g opacity="0.999">
<text transform="translate(301.8 1127.3) scale(0.909 1)" text-anchor="middle" class="tl" style="font-size:66.5px">20</text>
<text transform="translate(486.0 1127.3) scale(0.909 1)" text-anchor="middle" class="tl" style="font-size:66.5px">30</text>
<text transform="translate(670.1 1127.3) scale(0.909 1)" text-anchor="middle" class="tl" style="font-size:66.5px">40</text>
<text transform="translate(854.2 1127.3) scale(0.909 1)" text-anchor="middle" class="tl" style="font-size:66.5px">50</text>
<text transform="translate(1038.4 1127.3) scale(0.909 1)" text-anchor="middle" class="tl" style="font-size:66.5px">60</text>
<text transform="translate(1222.5 1127.3) scale(0.909 1)" text-anchor="middle" class="tl" style="font-size:66.5px">70</text>
<text transform="translate(1406.6 1127.3) scale(0.909 1)" text-anchor="middle" class="tl" style="font-size:66.5px">80</text>
<path d="M109.1 1080.9V1126.9H99.9V1095L89 1101.6V1093.2L95.6 1088L98.5 1084.2L101.5 1080.9Z" fill="#000"/>
<text transform="translate(134.5 1127.3) scale(0.909 1)" text-anchor="middle" class="tl" style="font-size:66.5px">0</text>
<text transform="translate(629.0 1197.6) scale(0.9266 1)" class="ax" style="font-size:83.2px">2θ/Degree</text>
<text transform="translate(76.7 770) rotate(-90) scale(0.994 1)" class="ax" style="font-size:83.7px">Intensity/a.u.</text>
<text transform="translate(1238.0 290.9) scale(0.915 1)" class="lb" style="font-size:62px">N-F-C</text>
<text transform="translate(1217.0 504.8) scale(0.907 1)" class="lb" style="font-size:62px">Fe-F-C</text>
<text transform="translate(943.0 879.8) scale(0.93 1)" class="lb" style="font-size:62px">Fe<tspan style="font-size:35px" dy="22">3</tspan><tspan dy="-22">C</tspan></text>
<text transform="translate(1107.0 879.8) scale(0.9025 1)" class="lb" style="font-size:62px">N-F-GCNTs</text>
<circle cx="1083.5" cy="865.4" r="25.3" fill="none" stroke="#000" stroke-width="2"/>
<text transform="translate(1067.7 879.8) scale(1.078 1)" style="font-family:&quot;Liberation Serif&quot;,serif;font-weight:bold;font-style:italic;font-size:60px">a</text>
<text transform="translate(137.0 1003.9) scale(0.921 1)" class="lb" style="font-size:54.5px">Fe<tspan style="font-size:33px" dy="21">3</tspan><tspan dy="-21">C PDF#35-0772</tspan></text>
</g>
</svg>
</body></html>
